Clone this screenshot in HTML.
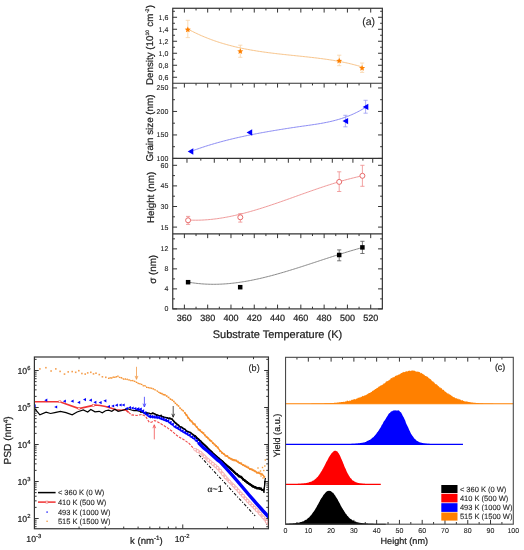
<!DOCTYPE html>
<html><head><meta charset="utf-8"><style>
html,body{margin:0;padding:0;background:#fff;}
svg{display:block;will-change:transform;}
text{stroke:#222;stroke-width:0.22px;stroke-linejoin:round;text-rendering:geometricPrecision;}
text.s{stroke-width:0.1px;}
</style></head><body>
<svg width="524" height="550" viewBox="0 0 524 550">
<rect width="524" height="550" fill="#fff"/>
<g font-family='"Liberation Sans", sans-serif'>
<line x1="184.39" y1="8.27" x2="184.39" y2="12.57" stroke="#333" stroke-width="1.0"/>
<line x1="207.68" y1="8.27" x2="207.68" y2="12.57" stroke="#333" stroke-width="1.0"/>
<line x1="230.97" y1="8.27" x2="230.97" y2="12.57" stroke="#333" stroke-width="1.0"/>
<line x1="254.26" y1="8.27" x2="254.26" y2="12.57" stroke="#333" stroke-width="1.0"/>
<line x1="277.55" y1="8.27" x2="277.55" y2="12.57" stroke="#333" stroke-width="1.0"/>
<line x1="300.84" y1="8.27" x2="300.84" y2="12.57" stroke="#333" stroke-width="1.0"/>
<line x1="324.13" y1="8.27" x2="324.13" y2="12.57" stroke="#333" stroke-width="1.0"/>
<line x1="347.42" y1="8.27" x2="347.42" y2="12.57" stroke="#333" stroke-width="1.0"/>
<line x1="370.71" y1="8.27" x2="370.71" y2="12.57" stroke="#333" stroke-width="1.0"/>
<line x1="196.04" y1="8.27" x2="196.04" y2="10.47" stroke="#333" stroke-width="1.0"/>
<line x1="219.33" y1="8.27" x2="219.33" y2="10.47" stroke="#333" stroke-width="1.0"/>
<line x1="242.62" y1="8.27" x2="242.62" y2="10.47" stroke="#333" stroke-width="1.0"/>
<line x1="265.91" y1="8.27" x2="265.91" y2="10.47" stroke="#333" stroke-width="1.0"/>
<line x1="289.19" y1="8.27" x2="289.19" y2="10.47" stroke="#333" stroke-width="1.0"/>
<line x1="312.48" y1="8.27" x2="312.48" y2="10.47" stroke="#333" stroke-width="1.0"/>
<line x1="335.77" y1="8.27" x2="335.77" y2="10.47" stroke="#333" stroke-width="1.0"/>
<line x1="359.06" y1="8.27" x2="359.06" y2="10.47" stroke="#333" stroke-width="1.0"/>
<line x1="172.75" y1="77.25" x2="177.05" y2="77.25" stroke="#333" stroke-width="1.0"/>
<line x1="382.35" y1="77.25" x2="378.05" y2="77.25" stroke="#333" stroke-width="1.0"/>
<text x="168.3" y="79.75" font-size="7" text-anchor="end" fill="#222" class="s">0,6</text>
<line x1="172.75" y1="65.25" x2="177.05" y2="65.25" stroke="#333" stroke-width="1.0"/>
<line x1="382.35" y1="65.25" x2="378.05" y2="65.25" stroke="#333" stroke-width="1.0"/>
<text x="168.3" y="67.75" font-size="7" text-anchor="end" fill="#222" class="s">0,8</text>
<line x1="172.75" y1="53.26" x2="177.05" y2="53.26" stroke="#333" stroke-width="1.0"/>
<line x1="382.35" y1="53.26" x2="378.05" y2="53.26" stroke="#333" stroke-width="1.0"/>
<text x="168.3" y="55.76" font-size="7" text-anchor="end" fill="#222" class="s">1,0</text>
<line x1="172.75" y1="41.26" x2="177.05" y2="41.26" stroke="#333" stroke-width="1.0"/>
<line x1="382.35" y1="41.26" x2="378.05" y2="41.26" stroke="#333" stroke-width="1.0"/>
<text x="168.3" y="43.76" font-size="7" text-anchor="end" fill="#222" class="s">1,2</text>
<line x1="172.75" y1="29.26" x2="177.05" y2="29.26" stroke="#333" stroke-width="1.0"/>
<line x1="382.35" y1="29.26" x2="378.05" y2="29.26" stroke="#333" stroke-width="1.0"/>
<text x="168.3" y="31.76" font-size="7" text-anchor="end" fill="#222" class="s">1,4</text>
<line x1="172.75" y1="17.27" x2="177.05" y2="17.27" stroke="#333" stroke-width="1.0"/>
<line x1="382.35" y1="17.27" x2="378.05" y2="17.27" stroke="#333" stroke-width="1.0"/>
<text x="168.3" y="19.77" font-size="7" text-anchor="end" fill="#222" class="s">1,6</text>
<line x1="172.75" y1="71.25" x2="174.95" y2="71.25" stroke="#333" stroke-width="1.0"/>
<line x1="382.35" y1="71.25" x2="380.15" y2="71.25" stroke="#333" stroke-width="1.0"/>
<line x1="172.75" y1="59.26" x2="174.95" y2="59.26" stroke="#333" stroke-width="1.0"/>
<line x1="382.35" y1="59.26" x2="380.15" y2="59.26" stroke="#333" stroke-width="1.0"/>
<line x1="172.75" y1="47.26" x2="174.95" y2="47.26" stroke="#333" stroke-width="1.0"/>
<line x1="382.35" y1="47.26" x2="380.15" y2="47.26" stroke="#333" stroke-width="1.0"/>
<line x1="172.75" y1="35.26" x2="174.95" y2="35.26" stroke="#333" stroke-width="1.0"/>
<line x1="382.35" y1="35.26" x2="380.15" y2="35.26" stroke="#333" stroke-width="1.0"/>
<line x1="172.75" y1="23.27" x2="174.95" y2="23.27" stroke="#333" stroke-width="1.0"/>
<line x1="382.35" y1="23.27" x2="380.15" y2="23.27" stroke="#333" stroke-width="1.0"/>
<line x1="172.75" y1="11.27" x2="174.95" y2="11.27" stroke="#333" stroke-width="1.0"/>
<line x1="382.35" y1="11.27" x2="380.15" y2="11.27" stroke="#333" stroke-width="1.0"/>
<line x1="184.39" y1="83.25" x2="184.39" y2="87.55" stroke="#333" stroke-width="1.0"/>
<line x1="207.68" y1="83.25" x2="207.68" y2="87.55" stroke="#333" stroke-width="1.0"/>
<line x1="230.97" y1="83.25" x2="230.97" y2="87.55" stroke="#333" stroke-width="1.0"/>
<line x1="254.26" y1="83.25" x2="254.26" y2="87.55" stroke="#333" stroke-width="1.0"/>
<line x1="277.55" y1="83.25" x2="277.55" y2="87.55" stroke="#333" stroke-width="1.0"/>
<line x1="300.84" y1="83.25" x2="300.84" y2="87.55" stroke="#333" stroke-width="1.0"/>
<line x1="324.13" y1="83.25" x2="324.13" y2="87.55" stroke="#333" stroke-width="1.0"/>
<line x1="347.42" y1="83.25" x2="347.42" y2="87.55" stroke="#333" stroke-width="1.0"/>
<line x1="370.71" y1="83.25" x2="370.71" y2="87.55" stroke="#333" stroke-width="1.0"/>
<line x1="196.04" y1="83.25" x2="196.04" y2="85.45" stroke="#333" stroke-width="1.0"/>
<line x1="219.33" y1="83.25" x2="219.33" y2="85.45" stroke="#333" stroke-width="1.0"/>
<line x1="242.62" y1="83.25" x2="242.62" y2="85.45" stroke="#333" stroke-width="1.0"/>
<line x1="265.91" y1="83.25" x2="265.91" y2="85.45" stroke="#333" stroke-width="1.0"/>
<line x1="289.19" y1="83.25" x2="289.19" y2="85.45" stroke="#333" stroke-width="1.0"/>
<line x1="312.48" y1="83.25" x2="312.48" y2="85.45" stroke="#333" stroke-width="1.0"/>
<line x1="335.77" y1="83.25" x2="335.77" y2="85.45" stroke="#333" stroke-width="1.0"/>
<line x1="359.06" y1="83.25" x2="359.06" y2="85.45" stroke="#333" stroke-width="1.0"/>
<line x1="172.75" y1="158.45" x2="177.05" y2="158.45" stroke="#333" stroke-width="1.0"/>
<line x1="382.35" y1="158.45" x2="378.05" y2="158.45" stroke="#333" stroke-width="1.0"/>
<text x="168.3" y="160.95" font-size="7" text-anchor="end" fill="#222" class="s">100</text>
<line x1="172.75" y1="134.95" x2="177.05" y2="134.95" stroke="#333" stroke-width="1.0"/>
<line x1="382.35" y1="134.95" x2="378.05" y2="134.95" stroke="#333" stroke-width="1.0"/>
<text x="168.3" y="137.45" font-size="7" text-anchor="end" fill="#222" class="s">150</text>
<line x1="172.75" y1="111.45" x2="177.05" y2="111.45" stroke="#333" stroke-width="1.0"/>
<line x1="382.35" y1="111.45" x2="378.05" y2="111.45" stroke="#333" stroke-width="1.0"/>
<text x="168.3" y="113.95" font-size="7" text-anchor="end" fill="#222" class="s">200</text>
<line x1="172.75" y1="87.95" x2="177.05" y2="87.95" stroke="#333" stroke-width="1.0"/>
<line x1="382.35" y1="87.95" x2="378.05" y2="87.95" stroke="#333" stroke-width="1.0"/>
<text x="168.3" y="90.45" font-size="7" text-anchor="end" fill="#222" class="s">250</text>
<line x1="172.75" y1="146.7" x2="174.95" y2="146.7" stroke="#333" stroke-width="1.0"/>
<line x1="382.35" y1="146.7" x2="380.15" y2="146.7" stroke="#333" stroke-width="1.0"/>
<line x1="172.75" y1="123.2" x2="174.95" y2="123.2" stroke="#333" stroke-width="1.0"/>
<line x1="382.35" y1="123.2" x2="380.15" y2="123.2" stroke="#333" stroke-width="1.0"/>
<line x1="172.75" y1="99.7" x2="174.95" y2="99.7" stroke="#333" stroke-width="1.0"/>
<line x1="382.35" y1="99.7" x2="380.15" y2="99.7" stroke="#333" stroke-width="1.0"/>
<line x1="186.98" y1="158.45" x2="186.98" y2="162.75" stroke="#333" stroke-width="1.0"/>
<line x1="214.29" y1="158.45" x2="214.29" y2="162.75" stroke="#333" stroke-width="1.0"/>
<line x1="240.2" y1="158.45" x2="240.2" y2="162.75" stroke="#333" stroke-width="1.0"/>
<line x1="264.85" y1="158.45" x2="264.85" y2="162.75" stroke="#333" stroke-width="1.0"/>
<line x1="288.34" y1="158.45" x2="288.34" y2="162.75" stroke="#333" stroke-width="1.0"/>
<line x1="310.8" y1="158.45" x2="310.8" y2="162.75" stroke="#333" stroke-width="1.0"/>
<line x1="332.3" y1="158.45" x2="332.3" y2="162.75" stroke="#333" stroke-width="1.0"/>
<line x1="352.92" y1="158.45" x2="352.92" y2="162.75" stroke="#333" stroke-width="1.0"/>
<line x1="372.73" y1="158.45" x2="372.73" y2="162.75" stroke="#333" stroke-width="1.0"/>
<line x1="200.82" y1="158.45" x2="200.82" y2="160.65" stroke="#333" stroke-width="1.0"/>
<line x1="227.41" y1="158.45" x2="227.41" y2="160.65" stroke="#333" stroke-width="1.0"/>
<line x1="252.67" y1="158.45" x2="252.67" y2="160.65" stroke="#333" stroke-width="1.0"/>
<line x1="276.73" y1="158.45" x2="276.73" y2="160.65" stroke="#333" stroke-width="1.0"/>
<line x1="299.7" y1="158.45" x2="299.7" y2="160.65" stroke="#333" stroke-width="1.0"/>
<line x1="321.66" y1="158.45" x2="321.66" y2="160.65" stroke="#333" stroke-width="1.0"/>
<line x1="342.71" y1="158.45" x2="342.71" y2="160.65" stroke="#333" stroke-width="1.0"/>
<line x1="362.92" y1="158.45" x2="362.92" y2="160.65" stroke="#333" stroke-width="1.0"/>
<line x1="172.75" y1="227.1" x2="177.05" y2="227.1" stroke="#333" stroke-width="1.0"/>
<line x1="382.35" y1="227.1" x2="378.05" y2="227.1" stroke="#333" stroke-width="1.0"/>
<text x="168.3" y="229.6" font-size="7" text-anchor="end" fill="#222" class="s">15</text>
<line x1="172.75" y1="206.5" x2="177.05" y2="206.5" stroke="#333" stroke-width="1.0"/>
<line x1="382.35" y1="206.5" x2="378.05" y2="206.5" stroke="#333" stroke-width="1.0"/>
<text x="168.3" y="209" font-size="7" text-anchor="end" fill="#222" class="s">30</text>
<line x1="172.75" y1="185.9" x2="177.05" y2="185.9" stroke="#333" stroke-width="1.0"/>
<line x1="382.35" y1="185.9" x2="378.05" y2="185.9" stroke="#333" stroke-width="1.0"/>
<text x="168.3" y="188.4" font-size="7" text-anchor="end" fill="#222" class="s">45</text>
<line x1="172.75" y1="165.3" x2="177.05" y2="165.3" stroke="#333" stroke-width="1.0"/>
<line x1="382.35" y1="165.3" x2="378.05" y2="165.3" stroke="#333" stroke-width="1.0"/>
<text x="168.3" y="167.8" font-size="7" text-anchor="end" fill="#222" class="s">60</text>
<line x1="172.75" y1="216.8" x2="174.95" y2="216.8" stroke="#333" stroke-width="1.0"/>
<line x1="382.35" y1="216.8" x2="380.15" y2="216.8" stroke="#333" stroke-width="1.0"/>
<line x1="172.75" y1="196.2" x2="174.95" y2="196.2" stroke="#333" stroke-width="1.0"/>
<line x1="382.35" y1="196.2" x2="380.15" y2="196.2" stroke="#333" stroke-width="1.0"/>
<line x1="172.75" y1="175.6" x2="174.95" y2="175.6" stroke="#333" stroke-width="1.0"/>
<line x1="382.35" y1="175.6" x2="380.15" y2="175.6" stroke="#333" stroke-width="1.0"/>
<line x1="184.39" y1="233.85" x2="184.39" y2="238.15" stroke="#333" stroke-width="1.0"/>
<line x1="207.68" y1="233.85" x2="207.68" y2="238.15" stroke="#333" stroke-width="1.0"/>
<line x1="230.97" y1="233.85" x2="230.97" y2="238.15" stroke="#333" stroke-width="1.0"/>
<line x1="254.26" y1="233.85" x2="254.26" y2="238.15" stroke="#333" stroke-width="1.0"/>
<line x1="277.55" y1="233.85" x2="277.55" y2="238.15" stroke="#333" stroke-width="1.0"/>
<line x1="300.84" y1="233.85" x2="300.84" y2="238.15" stroke="#333" stroke-width="1.0"/>
<line x1="324.13" y1="233.85" x2="324.13" y2="238.15" stroke="#333" stroke-width="1.0"/>
<line x1="347.42" y1="233.85" x2="347.42" y2="238.15" stroke="#333" stroke-width="1.0"/>
<line x1="370.71" y1="233.85" x2="370.71" y2="238.15" stroke="#333" stroke-width="1.0"/>
<line x1="196.04" y1="233.85" x2="196.04" y2="236.05" stroke="#333" stroke-width="1.0"/>
<line x1="219.33" y1="233.85" x2="219.33" y2="236.05" stroke="#333" stroke-width="1.0"/>
<line x1="242.62" y1="233.85" x2="242.62" y2="236.05" stroke="#333" stroke-width="1.0"/>
<line x1="265.91" y1="233.85" x2="265.91" y2="236.05" stroke="#333" stroke-width="1.0"/>
<line x1="289.19" y1="233.85" x2="289.19" y2="236.05" stroke="#333" stroke-width="1.0"/>
<line x1="312.48" y1="233.85" x2="312.48" y2="236.05" stroke="#333" stroke-width="1.0"/>
<line x1="335.77" y1="233.85" x2="335.77" y2="236.05" stroke="#333" stroke-width="1.0"/>
<line x1="359.06" y1="233.85" x2="359.06" y2="236.05" stroke="#333" stroke-width="1.0"/>
<line x1="172.75" y1="308.9" x2="177.05" y2="308.9" stroke="#333" stroke-width="1.0"/>
<line x1="382.35" y1="308.9" x2="378.05" y2="308.9" stroke="#333" stroke-width="1.0"/>
<text x="168.3" y="311.4" font-size="7" text-anchor="end" fill="#222" class="s">0</text>
<line x1="172.75" y1="288.89" x2="177.05" y2="288.89" stroke="#333" stroke-width="1.0"/>
<line x1="382.35" y1="288.89" x2="378.05" y2="288.89" stroke="#333" stroke-width="1.0"/>
<text x="168.3" y="291.39" font-size="7" text-anchor="end" fill="#222" class="s">4</text>
<line x1="172.75" y1="268.87" x2="177.05" y2="268.87" stroke="#333" stroke-width="1.0"/>
<line x1="382.35" y1="268.87" x2="378.05" y2="268.87" stroke="#333" stroke-width="1.0"/>
<text x="168.3" y="271.37" font-size="7" text-anchor="end" fill="#222" class="s">8</text>
<line x1="172.75" y1="248.86" x2="177.05" y2="248.86" stroke="#333" stroke-width="1.0"/>
<line x1="382.35" y1="248.86" x2="378.05" y2="248.86" stroke="#333" stroke-width="1.0"/>
<text x="168.3" y="251.36" font-size="7" text-anchor="end" fill="#222" class="s">12</text>
<line x1="172.75" y1="298.89" x2="174.95" y2="298.89" stroke="#333" stroke-width="1.0"/>
<line x1="382.35" y1="298.89" x2="380.15" y2="298.89" stroke="#333" stroke-width="1.0"/>
<line x1="172.75" y1="278.88" x2="174.95" y2="278.88" stroke="#333" stroke-width="1.0"/>
<line x1="382.35" y1="278.88" x2="380.15" y2="278.88" stroke="#333" stroke-width="1.0"/>
<line x1="172.75" y1="258.87" x2="174.95" y2="258.87" stroke="#333" stroke-width="1.0"/>
<line x1="382.35" y1="258.87" x2="380.15" y2="258.87" stroke="#333" stroke-width="1.0"/>
<line x1="172.75" y1="238.85" x2="174.95" y2="238.85" stroke="#333" stroke-width="1.0"/>
<line x1="382.35" y1="238.85" x2="380.15" y2="238.85" stroke="#333" stroke-width="1.0"/>
<line x1="184.39" y1="308.9" x2="184.39" y2="304.6" stroke="#333" stroke-width="1.0"/>
<text x="184.39" y="320.6" font-size="9" text-anchor="middle" fill="#222">360</text>
<line x1="207.68" y1="308.9" x2="207.68" y2="304.6" stroke="#333" stroke-width="1.0"/>
<text x="207.68" y="320.6" font-size="9" text-anchor="middle" fill="#222">380</text>
<line x1="230.97" y1="308.9" x2="230.97" y2="304.6" stroke="#333" stroke-width="1.0"/>
<text x="230.97" y="320.6" font-size="9" text-anchor="middle" fill="#222">400</text>
<line x1="254.26" y1="308.9" x2="254.26" y2="304.6" stroke="#333" stroke-width="1.0"/>
<text x="254.26" y="320.6" font-size="9" text-anchor="middle" fill="#222">420</text>
<line x1="277.55" y1="308.9" x2="277.55" y2="304.6" stroke="#333" stroke-width="1.0"/>
<text x="277.55" y="320.6" font-size="9" text-anchor="middle" fill="#222">440</text>
<line x1="300.84" y1="308.9" x2="300.84" y2="304.6" stroke="#333" stroke-width="1.0"/>
<text x="300.84" y="320.6" font-size="9" text-anchor="middle" fill="#222">460</text>
<line x1="324.13" y1="308.9" x2="324.13" y2="304.6" stroke="#333" stroke-width="1.0"/>
<text x="324.13" y="320.6" font-size="9" text-anchor="middle" fill="#222">480</text>
<line x1="347.42" y1="308.9" x2="347.42" y2="304.6" stroke="#333" stroke-width="1.0"/>
<text x="347.42" y="320.6" font-size="9" text-anchor="middle" fill="#222">500</text>
<line x1="370.71" y1="308.9" x2="370.71" y2="304.6" stroke="#333" stroke-width="1.0"/>
<text x="370.71" y="320.6" font-size="9" text-anchor="middle" fill="#222">520</text>
<line x1="196.04" y1="308.9" x2="196.04" y2="306.7" stroke="#333" stroke-width="1.0"/>
<line x1="219.33" y1="308.9" x2="219.33" y2="306.7" stroke="#333" stroke-width="1.0"/>
<line x1="242.62" y1="308.9" x2="242.62" y2="306.7" stroke="#333" stroke-width="1.0"/>
<line x1="265.91" y1="308.9" x2="265.91" y2="306.7" stroke="#333" stroke-width="1.0"/>
<line x1="289.19" y1="308.9" x2="289.19" y2="306.7" stroke="#333" stroke-width="1.0"/>
<line x1="312.48" y1="308.9" x2="312.48" y2="306.7" stroke="#333" stroke-width="1.0"/>
<line x1="335.77" y1="308.9" x2="335.77" y2="306.7" stroke="#333" stroke-width="1.0"/>
<line x1="359.06" y1="308.9" x2="359.06" y2="306.7" stroke="#333" stroke-width="1.0"/>
<rect x="172.75" y="8.27" width="209.6" height="300.63" fill="none" stroke="#333" stroke-width="1.2"/>
<line x1="172.75" y1="83.25" x2="382.35" y2="83.25" stroke="#333" stroke-width="1.2"/>
<line x1="172.75" y1="158.45" x2="382.35" y2="158.45" stroke="#333" stroke-width="1.2"/>
<line x1="172.75" y1="233.85" x2="382.35" y2="233.85" stroke="#333" stroke-width="1.2"/>
<text x="277.5" y="338.3" font-size="11" text-anchor="middle" fill="#222">Substrate Temperature (K)</text>
<text x="375" y="25.3" font-size="10.5" text-anchor="end" fill="#222" class="s">(a)</text>
<text transform="translate(152.8,85) rotate(-90)" font-size="9.75" fill="#222">Density (10<tspan font-size="5.0" dy="-4.0" dx="0.2">10</tspan><tspan dy="4.0" dx="0.5"> cm</tspan><tspan font-size="5.2" dy="-4.0" dx="0.6">-2</tspan><tspan dy="4.0" dx="0.2">)</tspan></text>
<text transform="translate(153.3,161.5) rotate(-90)" font-size="9.8" fill="#222">Grain size (nm)</text>
<text transform="translate(154,223) rotate(-90)" font-size="9.8" fill="#222">Height (nm)</text>
<text transform="translate(156.4,283.8) rotate(-90)" font-size="9.8" fill="#222">&#963; (nm)</text>
<path d="M188,29.13 L189.49,29.92 L190.98,30.7 L192.46,31.46 L193.95,32.2 L195.44,32.92 L196.93,33.63 L198.42,34.32 L199.9,34.99 L201.39,35.65 L202.88,36.29 L204.37,36.91 L205.86,37.52 L207.34,38.12 L208.83,38.7 L210.32,39.26 L211.81,39.82 L213.3,40.35 L214.78,40.88 L216.27,41.38 L217.76,41.88 L219.25,42.36 L220.74,42.83 L222.22,43.29 L223.71,43.73 L225.2,44.17 L226.69,44.59 L228.18,45 L229.66,45.4 L231.15,45.78 L232.64,46.16 L234.13,46.53 L235.62,46.88 L237.11,47.23 L238.59,47.56 L240.08,47.89 L241.57,48.21 L243.06,48.52 L244.55,48.82 L246.03,49.11 L247.52,49.39 L249.01,49.67 L250.5,49.93 L251.99,50.19 L253.47,50.45 L254.96,50.69 L256.45,50.93 L257.94,51.17 L259.43,51.4 L260.91,51.62 L262.4,51.83 L263.89,52.04 L265.38,52.25 L266.87,52.45 L268.35,52.65 L269.84,52.84 L271.33,53.03 L272.82,53.21 L274.31,53.39 L275.79,53.57 L277.28,53.75 L278.77,53.92 L280.26,54.08 L281.75,54.25 L283.23,54.41 L284.72,54.57 L286.21,54.73 L287.7,54.89 L289.19,55.05 L290.67,55.2 L292.16,55.36 L293.65,55.51 L295.14,55.67 L296.63,55.82 L298.11,55.97 L299.6,56.13 L301.09,56.28 L302.58,56.44 L304.07,56.6 L305.55,56.76 L307.04,56.92 L308.53,57.08 L310.02,57.24 L311.51,57.41 L312.99,57.58 L314.48,57.76 L315.97,57.93 L317.46,58.11 L318.95,58.3 L320.44,58.49 L321.92,58.68 L323.41,58.88 L324.9,59.09 L326.39,59.3 L327.88,59.52 L329.36,59.74 L330.85,59.97 L332.34,60.21 L333.83,60.45 L335.32,60.71 L336.8,60.97 L338.29,61.24 L339.78,61.52 L341.27,61.8 L342.76,62.1 L344.24,62.41 L345.73,62.72 L347.22,63.05 L348.71,63.39 L350.2,63.74 L351.68,64.1 L353.17,64.47 L354.66,64.86 L356.15,65.25 L357.64,65.66 L359.12,66.09 L360.61,66.52 L362.1,66.97" fill="none" stroke="#f8c48a" stroke-width="1"/>
<line x1="187.8" y1="20.3" x2="187.8" y2="37.6" stroke="#f9d3a6" stroke-width="0.8"/>
<line x1="185.7" y1="20.3" x2="189.9" y2="20.3" stroke="#f9d3a6" stroke-width="0.8"/>
<line x1="185.7" y1="37.6" x2="189.9" y2="37.6" stroke="#f9d3a6" stroke-width="0.8"/>
<path d="M187.8,26.5 L188.65,28.54 L190.84,28.71 L189.17,30.14 L189.68,32.29 L187.8,31.14 L185.92,32.29 L186.43,30.14 L184.76,28.71 L186.95,28.54Z" fill="#ff8000"/>
<line x1="240.3" y1="45.2" x2="240.3" y2="57.3" stroke="#f9d3a6" stroke-width="0.8"/>
<line x1="238.2" y1="45.2" x2="242.4" y2="45.2" stroke="#f9d3a6" stroke-width="0.8"/>
<line x1="238.2" y1="57.3" x2="242.4" y2="57.3" stroke="#f9d3a6" stroke-width="0.8"/>
<path d="M240.3,48.2 L241.15,50.24 L243.34,50.41 L241.67,51.84 L242.18,53.99 L240.3,52.84 L238.42,53.99 L238.93,51.84 L237.26,50.41 L239.45,50.24Z" fill="#ff8000"/>
<line x1="339.2" y1="55.2" x2="339.2" y2="65.7" stroke="#f9d3a6" stroke-width="0.8"/>
<line x1="337.1" y1="55.2" x2="341.3" y2="55.2" stroke="#f9d3a6" stroke-width="0.8"/>
<line x1="337.1" y1="65.7" x2="341.3" y2="65.7" stroke="#f9d3a6" stroke-width="0.8"/>
<path d="M339.2,57.7 L340.05,59.74 L342.24,59.91 L340.57,61.34 L341.08,63.49 L339.2,62.34 L337.32,63.49 L337.83,61.34 L336.16,59.91 L338.35,59.74Z" fill="#ff8000"/>
<line x1="362.1" y1="63" x2="362.1" y2="72.4" stroke="#f9d3a6" stroke-width="0.8"/>
<line x1="360" y1="63" x2="364.2" y2="63" stroke="#f9d3a6" stroke-width="0.8"/>
<line x1="360" y1="72.4" x2="364.2" y2="72.4" stroke="#f9d3a6" stroke-width="0.8"/>
<path d="M362.1,64.9 L362.95,66.94 L365.14,67.11 L363.47,68.54 L363.98,70.69 L362.1,69.54 L360.22,70.69 L360.73,68.54 L359.06,67.11 L361.25,66.94Z" fill="#ff8000"/>
<path d="M190.6,151.5 L192.09,150.94 L193.59,150.39 L195.08,149.85 L196.57,149.32 L198.07,148.8 L199.56,148.29 L201.05,147.78 L202.55,147.29 L204.04,146.8 L205.53,146.31 L207.02,145.84 L208.52,145.37 L210.01,144.92 L211.5,144.46 L213,144.02 L214.49,143.58 L215.98,143.15 L217.48,142.73 L218.97,142.31 L220.46,141.9 L221.96,141.5 L223.45,141.1 L224.94,140.71 L226.44,140.33 L227.93,139.95 L229.42,139.57 L230.92,139.21 L232.41,138.85 L233.9,138.49 L235.39,138.14 L236.89,137.8 L238.38,137.46 L239.87,137.12 L241.37,136.79 L242.86,136.47 L244.35,136.15 L245.85,135.83 L247.34,135.52 L248.83,135.21 L250.33,134.91 L251.82,134.61 L253.31,134.32 L254.81,134.03 L256.3,133.74 L257.79,133.46 L259.29,133.18 L260.78,132.9 L262.27,132.63 L263.76,132.36 L265.26,132.09 L266.75,131.83 L268.24,131.57 L269.74,131.31 L271.23,131.05 L272.72,130.8 L274.22,130.55 L275.71,130.3 L277.2,130.06 L278.7,129.81 L280.19,129.57 L281.68,129.33 L283.18,129.09 L284.67,128.85 L286.16,128.62 L287.66,128.38 L289.15,128.15 L290.64,127.92 L292.14,127.7 L293.63,127.47 L295.12,127.25 L296.61,127.03 L298.11,126.81 L299.6,126.59 L301.09,126.38 L302.59,126.17 L304.08,125.96 L305.57,125.75 L307.07,125.54 L308.56,125.33 L310.05,125.12 L311.55,124.9 L313.04,124.68 L314.53,124.46 L316.03,124.23 L317.52,123.99 L319.01,123.75 L320.51,123.49 L322,123.23 L323.49,122.96 L324.98,122.67 L326.48,122.38 L327.97,122.07 L329.46,121.74 L330.96,121.4 L332.45,121.05 L333.94,120.68 L335.44,120.29 L336.93,119.89 L338.42,119.46 L339.92,119.02 L341.41,118.55 L342.9,118.06 L344.4,117.55 L345.89,117.02 L347.38,116.46 L348.88,115.87 L350.37,115.26 L351.86,114.63 L353.35,113.96 L354.85,113.27 L356.34,112.54 L357.83,111.79 L359.33,111 L360.82,110.18 L362.31,109.33 L363.81,108.44 L365.3,107.52" fill="none" stroke="#8c8cf4" stroke-width="1"/>
<path d="M187.7,151.5 L193.3,148.3 L193.3,154.7Z" fill="#0000ff"/>
<path d="M246.6,132.5 L252.2,129.3 L252.2,135.7Z" fill="#0000ff"/>
<line x1="345.4" y1="115.3" x2="345.4" y2="126.8" stroke="#9a9af2" stroke-width="0.8"/>
<line x1="343.3" y1="115.3" x2="347.5" y2="115.3" stroke="#9a9af2" stroke-width="0.8"/>
<line x1="343.3" y1="126.8" x2="347.5" y2="126.8" stroke="#9a9af2" stroke-width="0.8"/>
<path d="M342.5,121.1 L348.1,117.9 L348.1,124.3Z" fill="#0000ff"/>
<line x1="365.6" y1="100.3" x2="365.6" y2="113.2" stroke="#9a9af2" stroke-width="0.8"/>
<line x1="363.5" y1="100.3" x2="367.7" y2="100.3" stroke="#9a9af2" stroke-width="0.8"/>
<line x1="363.5" y1="113.2" x2="367.7" y2="113.2" stroke="#9a9af2" stroke-width="0.8"/>
<path d="M362.7,106.9 L368.3,103.7 L368.3,110.1Z" fill="#0000ff"/>
<path d="M188.1,220.01 L189.59,220.08 L191.08,220.14 L192.57,220.18 L194.06,220.2 L195.55,220.21 L197.04,220.2 L198.53,220.18 L200.02,220.14 L201.51,220.08 L203,220.02 L204.49,219.93 L205.98,219.83 L207.47,219.72 L208.96,219.6 L210.45,219.46 L211.94,219.31 L213.43,219.14 L214.92,218.96 L216.41,218.77 L217.89,218.57 L219.38,218.35 L220.87,218.12 L222.36,217.88 L223.85,217.63 L225.34,217.37 L226.83,217.1 L228.32,216.81 L229.81,216.52 L231.3,216.21 L232.79,215.9 L234.28,215.57 L235.77,215.24 L237.26,214.89 L238.75,214.54 L240.24,214.18 L241.73,213.81 L243.22,213.43 L244.71,213.04 L246.2,212.64 L247.69,212.24 L249.18,211.83 L250.67,211.41 L252.16,210.98 L253.65,210.55 L255.14,210.11 L256.63,209.66 L258.12,209.21 L259.61,208.75 L261.1,208.29 L262.59,207.82 L264.08,207.34 L265.57,206.86 L267.06,206.38 L268.55,205.89 L270.04,205.39 L271.53,204.89 L273.02,204.39 L274.51,203.89 L275.99,203.38 L277.48,202.86 L278.97,202.35 L280.46,201.83 L281.95,201.31 L283.44,200.79 L284.93,200.26 L286.42,199.74 L287.91,199.21 L289.4,198.68 L290.89,198.15 L292.38,197.61 L293.87,197.08 L295.36,196.55 L296.85,196.01 L298.34,195.48 L299.83,194.95 L301.32,194.42 L302.81,193.88 L304.3,193.35 L305.79,192.82 L307.28,192.29 L308.77,191.77 L310.26,191.24 L311.75,190.72 L313.24,190.2 L314.73,189.68 L316.22,189.16 L317.71,188.65 L319.2,188.14 L320.69,187.64 L322.18,187.14 L323.67,186.64 L325.16,186.14 L326.65,185.65 L328.14,185.17 L329.63,184.69 L331.12,184.21 L332.61,183.74 L334.09,183.28 L335.58,182.82 L337.07,182.37 L338.56,181.92 L340.05,181.48 L341.54,181.05 L343.03,180.62 L344.52,180.2 L346.01,179.79 L347.5,179.39 L348.99,178.99 L350.48,178.6 L351.97,178.22 L353.46,177.85 L354.95,177.49 L356.44,177.14 L357.93,176.79 L359.42,176.46 L360.91,176.13 L362.4,175.82" fill="none" stroke="#f09a9a" stroke-width="1"/>
<line x1="188.1" y1="216.4" x2="188.1" y2="224.4" stroke="#ef8c8c" stroke-width="0.8"/>
<line x1="186" y1="216.4" x2="190.2" y2="216.4" stroke="#ef8c8c" stroke-width="0.8"/>
<line x1="186" y1="224.4" x2="190.2" y2="224.4" stroke="#ef8c8c" stroke-width="0.8"/>
<circle cx="188.1" cy="220.3" r="2.5" fill="#fff" stroke="#e86a6a" stroke-width="1"/>
<line x1="240.3" y1="213.7" x2="240.3" y2="222.1" stroke="#ef8c8c" stroke-width="0.8"/>
<line x1="238.2" y1="213.7" x2="242.4" y2="213.7" stroke="#ef8c8c" stroke-width="0.8"/>
<line x1="238.2" y1="222.1" x2="242.4" y2="222.1" stroke="#ef8c8c" stroke-width="0.8"/>
<circle cx="240.3" cy="217.3" r="2.5" fill="#fff" stroke="#e86a6a" stroke-width="1"/>
<line x1="339.2" y1="171.8" x2="339.2" y2="191.5" stroke="#ef8c8c" stroke-width="0.8"/>
<line x1="337.1" y1="171.8" x2="341.3" y2="171.8" stroke="#ef8c8c" stroke-width="0.8"/>
<line x1="337.1" y1="191.5" x2="341.3" y2="191.5" stroke="#ef8c8c" stroke-width="0.8"/>
<circle cx="339.2" cy="181.9" r="2.5" fill="#fff" stroke="#e86a6a" stroke-width="1"/>
<line x1="362.4" y1="165.3" x2="362.4" y2="186.3" stroke="#ef8c8c" stroke-width="0.8"/>
<line x1="360.3" y1="165.3" x2="364.5" y2="165.3" stroke="#ef8c8c" stroke-width="0.8"/>
<line x1="360.3" y1="186.3" x2="364.5" y2="186.3" stroke="#ef8c8c" stroke-width="0.8"/>
<circle cx="362.4" cy="175.8" r="2.5" fill="#fff" stroke="#e86a6a" stroke-width="1"/>
<path d="M188.1,282.1 L189.59,282.36 L191.08,282.6 L192.57,282.82 L194.06,283.03 L195.55,283.22 L197.04,283.4 L198.53,283.56 L200.02,283.7 L201.51,283.83 L203,283.94 L204.49,284.04 L205.98,284.12 L207.47,284.18 L208.96,284.23 L210.45,284.27 L211.94,284.29 L213.43,284.3 L214.92,284.29 L216.41,284.27 L217.89,284.24 L219.38,284.19 L220.87,284.13 L222.36,284.06 L223.85,283.97 L225.34,283.87 L226.83,283.76 L228.32,283.63 L229.81,283.5 L231.3,283.35 L232.79,283.19 L234.28,283.02 L235.77,282.83 L237.26,282.64 L238.75,282.44 L240.24,282.22 L241.73,282 L243.22,281.76 L244.71,281.52 L246.2,281.26 L247.69,281 L249.18,280.72 L250.67,280.44 L252.16,280.14 L253.65,279.84 L255.14,279.53 L256.63,279.21 L258.12,278.89 L259.61,278.55 L261.1,278.21 L262.59,277.86 L264.08,277.5 L265.57,277.14 L267.06,276.76 L268.55,276.38 L270.04,276 L271.53,275.61 L273.02,275.21 L274.51,274.81 L275.99,274.4 L277.48,273.98 L278.97,273.56 L280.46,273.13 L281.95,272.7 L283.44,272.27 L284.93,271.83 L286.42,271.38 L287.91,270.93 L289.4,270.48 L290.89,270.02 L292.38,269.56 L293.87,269.1 L295.36,268.63 L296.85,268.16 L298.34,267.69 L299.83,267.21 L301.32,266.74 L302.81,266.26 L304.3,265.77 L305.79,265.29 L307.28,264.8 L308.77,264.32 L310.26,263.83 L311.75,263.34 L313.24,262.85 L314.73,262.36 L316.22,261.87 L317.71,261.38 L319.2,260.89 L320.69,260.4 L322.18,259.91 L323.67,259.42 L325.16,258.93 L326.65,258.44 L328.14,257.96 L329.63,257.47 L331.12,256.99 L332.61,256.51 L334.09,256.03 L335.58,255.55 L337.07,255.08 L338.56,254.61 L340.05,254.14 L341.54,253.67 L343.03,253.21 L344.52,252.75 L346.01,252.29 L347.5,251.84 L348.99,251.4 L350.48,250.95 L351.97,250.51 L353.46,250.08 L354.95,249.65 L356.44,249.23 L357.93,248.81 L359.42,248.39 L360.91,247.98 L362.4,247.58" fill="none" stroke="#8a8a8a" stroke-width="1"/>
<rect x="185.85" y="279.95" width="4.5" height="4.5" fill="#000"/>
<rect x="237.95" y="284.95" width="4.5" height="4.5" fill="#000"/>
<line x1="339.2" y1="249.9" x2="339.2" y2="260.8" stroke="#555" stroke-width="0.8"/>
<line x1="337.1" y1="249.9" x2="341.3" y2="249.9" stroke="#555" stroke-width="0.8"/>
<line x1="337.1" y1="260.8" x2="341.3" y2="260.8" stroke="#555" stroke-width="0.8"/>
<rect x="336.95" y="252.75" width="4.5" height="4.5" fill="#000"/>
<line x1="362.4" y1="241.3" x2="362.4" y2="253.5" stroke="#555" stroke-width="0.8"/>
<line x1="360.3" y1="241.3" x2="364.5" y2="241.3" stroke="#555" stroke-width="0.8"/>
<line x1="360.3" y1="253.5" x2="364.5" y2="253.5" stroke="#555" stroke-width="0.8"/>
<rect x="360.15" y="245.15" width="4.5" height="4.5" fill="#000"/>
<line x1="79.06" y1="528.75" x2="79.06" y2="526.55" stroke="#333" stroke-width="1.0"/>
<line x1="79.06" y1="357" x2="79.06" y2="359.2" stroke="#333" stroke-width="1.0"/>
<line x1="105.18" y1="528.75" x2="105.18" y2="526.55" stroke="#333" stroke-width="1.0"/>
<line x1="105.18" y1="357" x2="105.18" y2="359.2" stroke="#333" stroke-width="1.0"/>
<line x1="123.72" y1="528.75" x2="123.72" y2="526.55" stroke="#333" stroke-width="1.0"/>
<line x1="123.72" y1="357" x2="123.72" y2="359.2" stroke="#333" stroke-width="1.0"/>
<line x1="138.09" y1="528.75" x2="138.09" y2="526.55" stroke="#333" stroke-width="1.0"/>
<line x1="138.09" y1="357" x2="138.09" y2="359.2" stroke="#333" stroke-width="1.0"/>
<line x1="149.84" y1="528.75" x2="149.84" y2="526.55" stroke="#333" stroke-width="1.0"/>
<line x1="149.84" y1="357" x2="149.84" y2="359.2" stroke="#333" stroke-width="1.0"/>
<line x1="159.77" y1="528.75" x2="159.77" y2="526.55" stroke="#333" stroke-width="1.0"/>
<line x1="159.77" y1="357" x2="159.77" y2="359.2" stroke="#333" stroke-width="1.0"/>
<line x1="168.37" y1="528.75" x2="168.37" y2="526.55" stroke="#333" stroke-width="1.0"/>
<line x1="168.37" y1="357" x2="168.37" y2="359.2" stroke="#333" stroke-width="1.0"/>
<line x1="175.96" y1="528.75" x2="175.96" y2="526.55" stroke="#333" stroke-width="1.0"/>
<line x1="175.96" y1="357" x2="175.96" y2="359.2" stroke="#333" stroke-width="1.0"/>
<line x1="182.75" y1="528.75" x2="182.75" y2="524.45" stroke="#333" stroke-width="1.0"/>
<line x1="182.75" y1="357" x2="182.75" y2="361.3" stroke="#333" stroke-width="1.0"/>
<line x1="227.41" y1="528.75" x2="227.41" y2="526.55" stroke="#333" stroke-width="1.0"/>
<line x1="227.41" y1="357" x2="227.41" y2="359.2" stroke="#333" stroke-width="1.0"/>
<line x1="253.53" y1="528.75" x2="253.53" y2="526.55" stroke="#333" stroke-width="1.0"/>
<line x1="253.53" y1="357" x2="253.53" y2="359.2" stroke="#333" stroke-width="1.0"/>
<line x1="34.4" y1="526.71" x2="36.6" y2="526.71" stroke="#333" stroke-width="1.0"/>
<line x1="268.45" y1="526.71" x2="266.25" y2="526.71" stroke="#333" stroke-width="1.0"/>
<line x1="34.4" y1="524.23" x2="36.6" y2="524.23" stroke="#333" stroke-width="1.0"/>
<line x1="268.45" y1="524.23" x2="266.25" y2="524.23" stroke="#333" stroke-width="1.0"/>
<line x1="34.4" y1="522.09" x2="36.6" y2="522.09" stroke="#333" stroke-width="1.0"/>
<line x1="268.45" y1="522.09" x2="266.25" y2="522.09" stroke="#333" stroke-width="1.0"/>
<line x1="34.4" y1="520.19" x2="36.6" y2="520.19" stroke="#333" stroke-width="1.0"/>
<line x1="268.45" y1="520.19" x2="266.25" y2="520.19" stroke="#333" stroke-width="1.0"/>
<line x1="34.4" y1="518.5" x2="38.7" y2="518.5" stroke="#333" stroke-width="1.0"/>
<line x1="268.45" y1="518.5" x2="264.15" y2="518.5" stroke="#333" stroke-width="1.0"/>
<line x1="34.4" y1="507.36" x2="36.6" y2="507.36" stroke="#333" stroke-width="1.0"/>
<line x1="268.45" y1="507.36" x2="266.25" y2="507.36" stroke="#333" stroke-width="1.0"/>
<line x1="34.4" y1="500.85" x2="36.6" y2="500.85" stroke="#333" stroke-width="1.0"/>
<line x1="268.45" y1="500.85" x2="266.25" y2="500.85" stroke="#333" stroke-width="1.0"/>
<line x1="34.4" y1="496.22" x2="36.6" y2="496.22" stroke="#333" stroke-width="1.0"/>
<line x1="268.45" y1="496.22" x2="266.25" y2="496.22" stroke="#333" stroke-width="1.0"/>
<line x1="34.4" y1="492.64" x2="36.6" y2="492.64" stroke="#333" stroke-width="1.0"/>
<line x1="268.45" y1="492.64" x2="266.25" y2="492.64" stroke="#333" stroke-width="1.0"/>
<line x1="34.4" y1="489.71" x2="36.6" y2="489.71" stroke="#333" stroke-width="1.0"/>
<line x1="268.45" y1="489.71" x2="266.25" y2="489.71" stroke="#333" stroke-width="1.0"/>
<line x1="34.4" y1="487.23" x2="36.6" y2="487.23" stroke="#333" stroke-width="1.0"/>
<line x1="268.45" y1="487.23" x2="266.25" y2="487.23" stroke="#333" stroke-width="1.0"/>
<line x1="34.4" y1="485.09" x2="36.6" y2="485.09" stroke="#333" stroke-width="1.0"/>
<line x1="268.45" y1="485.09" x2="266.25" y2="485.09" stroke="#333" stroke-width="1.0"/>
<line x1="34.4" y1="483.19" x2="36.6" y2="483.19" stroke="#333" stroke-width="1.0"/>
<line x1="268.45" y1="483.19" x2="266.25" y2="483.19" stroke="#333" stroke-width="1.0"/>
<line x1="34.4" y1="481.5" x2="38.7" y2="481.5" stroke="#333" stroke-width="1.0"/>
<line x1="268.45" y1="481.5" x2="264.15" y2="481.5" stroke="#333" stroke-width="1.0"/>
<line x1="34.4" y1="470.36" x2="36.6" y2="470.36" stroke="#333" stroke-width="1.0"/>
<line x1="268.45" y1="470.36" x2="266.25" y2="470.36" stroke="#333" stroke-width="1.0"/>
<line x1="34.4" y1="463.85" x2="36.6" y2="463.85" stroke="#333" stroke-width="1.0"/>
<line x1="268.45" y1="463.85" x2="266.25" y2="463.85" stroke="#333" stroke-width="1.0"/>
<line x1="34.4" y1="459.22" x2="36.6" y2="459.22" stroke="#333" stroke-width="1.0"/>
<line x1="268.45" y1="459.22" x2="266.25" y2="459.22" stroke="#333" stroke-width="1.0"/>
<line x1="34.4" y1="455.64" x2="36.6" y2="455.64" stroke="#333" stroke-width="1.0"/>
<line x1="268.45" y1="455.64" x2="266.25" y2="455.64" stroke="#333" stroke-width="1.0"/>
<line x1="34.4" y1="452.71" x2="36.6" y2="452.71" stroke="#333" stroke-width="1.0"/>
<line x1="268.45" y1="452.71" x2="266.25" y2="452.71" stroke="#333" stroke-width="1.0"/>
<line x1="34.4" y1="450.23" x2="36.6" y2="450.23" stroke="#333" stroke-width="1.0"/>
<line x1="268.45" y1="450.23" x2="266.25" y2="450.23" stroke="#333" stroke-width="1.0"/>
<line x1="34.4" y1="448.09" x2="36.6" y2="448.09" stroke="#333" stroke-width="1.0"/>
<line x1="268.45" y1="448.09" x2="266.25" y2="448.09" stroke="#333" stroke-width="1.0"/>
<line x1="34.4" y1="446.19" x2="36.6" y2="446.19" stroke="#333" stroke-width="1.0"/>
<line x1="268.45" y1="446.19" x2="266.25" y2="446.19" stroke="#333" stroke-width="1.0"/>
<line x1="34.4" y1="444.5" x2="38.7" y2="444.5" stroke="#333" stroke-width="1.0"/>
<line x1="268.45" y1="444.5" x2="264.15" y2="444.5" stroke="#333" stroke-width="1.0"/>
<line x1="34.4" y1="433.36" x2="36.6" y2="433.36" stroke="#333" stroke-width="1.0"/>
<line x1="268.45" y1="433.36" x2="266.25" y2="433.36" stroke="#333" stroke-width="1.0"/>
<line x1="34.4" y1="426.85" x2="36.6" y2="426.85" stroke="#333" stroke-width="1.0"/>
<line x1="268.45" y1="426.85" x2="266.25" y2="426.85" stroke="#333" stroke-width="1.0"/>
<line x1="34.4" y1="422.22" x2="36.6" y2="422.22" stroke="#333" stroke-width="1.0"/>
<line x1="268.45" y1="422.22" x2="266.25" y2="422.22" stroke="#333" stroke-width="1.0"/>
<line x1="34.4" y1="418.64" x2="36.6" y2="418.64" stroke="#333" stroke-width="1.0"/>
<line x1="268.45" y1="418.64" x2="266.25" y2="418.64" stroke="#333" stroke-width="1.0"/>
<line x1="34.4" y1="415.71" x2="36.6" y2="415.71" stroke="#333" stroke-width="1.0"/>
<line x1="268.45" y1="415.71" x2="266.25" y2="415.71" stroke="#333" stroke-width="1.0"/>
<line x1="34.4" y1="413.23" x2="36.6" y2="413.23" stroke="#333" stroke-width="1.0"/>
<line x1="268.45" y1="413.23" x2="266.25" y2="413.23" stroke="#333" stroke-width="1.0"/>
<line x1="34.4" y1="411.09" x2="36.6" y2="411.09" stroke="#333" stroke-width="1.0"/>
<line x1="268.45" y1="411.09" x2="266.25" y2="411.09" stroke="#333" stroke-width="1.0"/>
<line x1="34.4" y1="409.19" x2="36.6" y2="409.19" stroke="#333" stroke-width="1.0"/>
<line x1="268.45" y1="409.19" x2="266.25" y2="409.19" stroke="#333" stroke-width="1.0"/>
<line x1="34.4" y1="407.5" x2="38.7" y2="407.5" stroke="#333" stroke-width="1.0"/>
<line x1="268.45" y1="407.5" x2="264.15" y2="407.5" stroke="#333" stroke-width="1.0"/>
<line x1="34.4" y1="396.36" x2="36.6" y2="396.36" stroke="#333" stroke-width="1.0"/>
<line x1="268.45" y1="396.36" x2="266.25" y2="396.36" stroke="#333" stroke-width="1.0"/>
<line x1="34.4" y1="389.85" x2="36.6" y2="389.85" stroke="#333" stroke-width="1.0"/>
<line x1="268.45" y1="389.85" x2="266.25" y2="389.85" stroke="#333" stroke-width="1.0"/>
<line x1="34.4" y1="385.22" x2="36.6" y2="385.22" stroke="#333" stroke-width="1.0"/>
<line x1="268.45" y1="385.22" x2="266.25" y2="385.22" stroke="#333" stroke-width="1.0"/>
<line x1="34.4" y1="381.64" x2="36.6" y2="381.64" stroke="#333" stroke-width="1.0"/>
<line x1="268.45" y1="381.64" x2="266.25" y2="381.64" stroke="#333" stroke-width="1.0"/>
<line x1="34.4" y1="378.71" x2="36.6" y2="378.71" stroke="#333" stroke-width="1.0"/>
<line x1="268.45" y1="378.71" x2="266.25" y2="378.71" stroke="#333" stroke-width="1.0"/>
<line x1="34.4" y1="376.23" x2="36.6" y2="376.23" stroke="#333" stroke-width="1.0"/>
<line x1="268.45" y1="376.23" x2="266.25" y2="376.23" stroke="#333" stroke-width="1.0"/>
<line x1="34.4" y1="374.09" x2="36.6" y2="374.09" stroke="#333" stroke-width="1.0"/>
<line x1="268.45" y1="374.09" x2="266.25" y2="374.09" stroke="#333" stroke-width="1.0"/>
<line x1="34.4" y1="372.19" x2="36.6" y2="372.19" stroke="#333" stroke-width="1.0"/>
<line x1="268.45" y1="372.19" x2="266.25" y2="372.19" stroke="#333" stroke-width="1.0"/>
<line x1="34.4" y1="370.5" x2="38.7" y2="370.5" stroke="#333" stroke-width="1.0"/>
<line x1="268.45" y1="370.5" x2="264.15" y2="370.5" stroke="#333" stroke-width="1.0"/>
<line x1="34.4" y1="359.36" x2="36.6" y2="359.36" stroke="#333" stroke-width="1.0"/>
<line x1="268.45" y1="359.36" x2="266.25" y2="359.36" stroke="#333" stroke-width="1.0"/>
<text x="27.2" y="374.1" font-size="8.7" text-anchor="end" fill="#222">10</text>
<text x="27.2" y="370.4" font-size="5.8" fill="#222">6</text>
<text x="27.2" y="411.1" font-size="8.7" text-anchor="end" fill="#222">10</text>
<text x="27.2" y="407.4" font-size="5.8" fill="#222">5</text>
<text x="27.2" y="448.1" font-size="8.7" text-anchor="end" fill="#222">10</text>
<text x="27.2" y="444.4" font-size="5.8" fill="#222">4</text>
<text x="27.2" y="485.1" font-size="8.7" text-anchor="end" fill="#222">10</text>
<text x="27.2" y="481.4" font-size="5.8" fill="#222">3</text>
<text x="27.2" y="522.1" font-size="8.7" text-anchor="end" fill="#222">10</text>
<text x="27.2" y="518.4" font-size="5.8" fill="#222">2</text>
<text x="36" y="541.7" font-size="8.7" text-anchor="end" fill="#222">10</text>
<text x="36" y="538.0" font-size="5.8" fill="#222">-3</text>
<text x="184.35" y="541.7" font-size="8.7" text-anchor="end" fill="#222">10</text>
<text x="184.35" y="538.0" font-size="5.8" fill="#222">-2</text>
<text x="130" y="544" font-size="9.6" text-anchor="start" fill="#222">k (nm<tspan font-size="6.3" dy="-3.6">-1</tspan><tspan dy="3.6">)</tspan></text>
<text transform="translate(11.4,464.6) rotate(-90)" font-size="10.2" fill="#222">PSD (nm<tspan font-size="6.5" dy="-3.7">4</tspan><tspan dy="3.7">)</tspan></text>
<text x="259.8" y="370.7" font-size="9.2" text-anchor="end" fill="#222" class="s">(b)</text>
<clipPath id="cb"><rect x="34.4" y="357.0" width="234.05" height="171.75"/></clipPath>
<g clip-path="url(#cb)">
<rect x="39.1" y="368.1" width="1.6" height="1.6" fill="#f5a050"/>
<rect x="45.1" y="366.9" width="1.6" height="1.6" fill="#f5a050"/>
<rect x="50.3" y="370.2" width="1.6" height="1.6" fill="#f5a050"/>
<rect x="55" y="368.1" width="1.6" height="1.6" fill="#f5a050"/>
<rect x="59.3" y="370.6" width="1.6" height="1.6" fill="#f5a050"/>
<rect x="63.7" y="373.3" width="1.6" height="1.6" fill="#f5a050"/>
<rect x="67.4" y="371.1" width="1.6" height="1.6" fill="#f5a050"/>
<rect x="71.4" y="370.8" width="1.6" height="1.6" fill="#f5a050"/>
<rect x="74.9" y="371.5" width="1.6" height="1.6" fill="#f5a050"/>
<rect x="78" y="369.9" width="1.6" height="1.6" fill="#f5a050"/>
<rect x="81.1" y="372.7" width="1.6" height="1.6" fill="#f5a050"/>
<rect x="84.4" y="373.3" width="1.6" height="1.6" fill="#f5a050"/>
<rect x="86.9" y="372.1" width="1.6" height="1.6" fill="#f5a050"/>
<rect x="90" y="371.5" width="1.6" height="1.6" fill="#f5a050"/>
<rect x="92.7" y="373.1" width="1.6" height="1.6" fill="#f5a050"/>
<rect x="95.2" y="372.4" width="1.6" height="1.6" fill="#f5a050"/>
<rect x="98.5" y="373.8" width="1.6" height="1.6" fill="#f5a050"/>
<rect x="101.6" y="376" width="1.6" height="1.6" fill="#f5a050"/>
<rect x="105" y="376.5" width="1.6" height="1.6" fill="#f5a050"/>
<path d="M108.6,378.5 L117.9,376.6 L123.5,379.1 L130.9,380.3 L136.5,382.2 L143.3,385.3 L148.3,387.8 L155,389.5 L157.4,391.5 L164.9,395.3 L172.3,400.2 L178.5,406.2 L184.7,412.6 L190,420 L194.8,424.8 L198.6,429.3 L203.4,433.6 L208.2,438.3 L212.9,442.9 L217.7,447.5 L220.2,450.8 L225.5,455.5 L230.7,458.6 L236,460.7 L241.2,463.9 L246.5,467 L251.7,469.7 L257,472.3 L262.2,474.4 L264.3,476.5" fill="none" stroke="#f9c080" stroke-width="0.9"/>
<path d="M184.7,412.6 L190,420 L194.8,424.8 L198.6,429.3 L203.4,433.6 L208.2,438.3 L212.9,442.9 L217.7,447.5 L220.2,450.8 L225.5,455.5 L230.7,458.6 L236,460.7 L241.2,463.9 L246.5,467 L251.7,469.7 L257,472.3 L262.2,474.4 L264.3,476.5" fill="none" stroke="#f88c28" stroke-width="1.3"/>
<rect x="107.97" y="377.66" width="1.25" height="1.25" fill="#f59030"/>
<rect x="109.52" y="377.14" width="1.25" height="1.25" fill="#f59030"/>
<rect x="111.08" y="377.42" width="1.25" height="1.25" fill="#f59030"/>
<rect x="112.62" y="376.41" width="1.25" height="1.25" fill="#f59030"/>
<rect x="114.17" y="376.65" width="1.25" height="1.25" fill="#f59030"/>
<rect x="115.73" y="376.13" width="1.25" height="1.25" fill="#f59030"/>
<rect x="117.28" y="375.44" width="1.25" height="1.25" fill="#f59030"/>
<rect x="119.14" y="376.82" width="1.25" height="1.25" fill="#f59030"/>
<rect x="121.01" y="377.09" width="1.25" height="1.25" fill="#f59030"/>
<rect x="122.88" y="378.4" width="1.25" height="1.25" fill="#f59030"/>
<rect x="124.72" y="378.26" width="1.25" height="1.25" fill="#f59030"/>
<rect x="126.58" y="378.58" width="1.25" height="1.25" fill="#f59030"/>
<rect x="128.43" y="379.28" width="1.25" height="1.25" fill="#f59030"/>
<rect x="130.28" y="380.07" width="1.25" height="1.25" fill="#f59030"/>
<rect x="132.14" y="379.86" width="1.25" height="1.25" fill="#f59030"/>
<rect x="134.01" y="380.61" width="1.25" height="1.25" fill="#f59030"/>
<rect x="135.88" y="381.73" width="1.25" height="1.25" fill="#f59030"/>
<rect x="137.57" y="382.89" width="1.25" height="1.25" fill="#f59030"/>
<rect x="139.28" y="383.22" width="1.25" height="1.25" fill="#f59030"/>
<rect x="140.98" y="383.78" width="1.25" height="1.25" fill="#f59030"/>
<rect x="142.68" y="385.25" width="1.25" height="1.25" fill="#f59030"/>
<rect x="144.34" y="384.96" width="1.25" height="1.25" fill="#f59030"/>
<rect x="146.01" y="386.77" width="1.25" height="1.25" fill="#f59030"/>
<rect x="147.68" y="386.92" width="1.25" height="1.25" fill="#f59030"/>
<rect x="149.35" y="387.17" width="1.25" height="1.25" fill="#f59030"/>
<rect x="151.03" y="387.57" width="1.25" height="1.25" fill="#f59030"/>
<rect x="152.7" y="388.22" width="1.25" height="1.25" fill="#f59030"/>
<rect x="154.38" y="389.25" width="1.25" height="1.25" fill="#f59030"/>
<rect x="156.78" y="390.49" width="1.25" height="1.25" fill="#f59030"/>
<rect x="158.28" y="391.73" width="1.25" height="1.25" fill="#f59030"/>
<rect x="159.62" y="392.41" width="1.55" height="1.55" fill="#f59030"/>
<rect x="161.12" y="392.85" width="1.55" height="1.55" fill="#f59030"/>
<rect x="162.62" y="393.82" width="1.55" height="1.55" fill="#f59030"/>
<rect x="164.12" y="394" width="1.55" height="1.55" fill="#f59030"/>
<rect x="165.97" y="395.22" width="1.55" height="1.55" fill="#f59030"/>
<rect x="167.83" y="396.62" width="1.55" height="1.55" fill="#f59030"/>
<rect x="169.68" y="398.42" width="1.55" height="1.55" fill="#f59030"/>
<rect x="171.53" y="399.34" width="1.55" height="1.55" fill="#f59030"/>
<rect x="173.08" y="400.7" width="1.55" height="1.55" fill="#f59030"/>
<rect x="174.62" y="402.53" width="1.55" height="1.55" fill="#f59030"/>
<rect x="176.17" y="403.87" width="1.55" height="1.55" fill="#f59030"/>
<rect x="177.72" y="405.18" width="1.55" height="1.55" fill="#f59030"/>
<rect x="179.28" y="407.38" width="1.55" height="1.55" fill="#f59030"/>
<rect x="180.82" y="408.86" width="1.55" height="1.55" fill="#f59030"/>
<rect x="182.37" y="409.92" width="1.55" height="1.55" fill="#f59030"/>
<rect x="183.92" y="411.91" width="1.55" height="1.55" fill="#f59030"/>
<rect x="185.57" y="414.2" width="1.8" height="1.8" fill="#f59030"/>
<rect x="187.33" y="417.08" width="1.8" height="1.8" fill="#f59030"/>
<rect x="189.1" y="419.38" width="1.8" height="1.8" fill="#f59030"/>
<rect x="190.7" y="420.45" width="1.8" height="1.8" fill="#f59030"/>
<rect x="192.3" y="422.88" width="1.8" height="1.8" fill="#f59030"/>
<rect x="193.9" y="423.44" width="1.8" height="1.8" fill="#f59030"/>
<rect x="195.8" y="426.05" width="1.8" height="1.8" fill="#f59030"/>
<rect x="197.7" y="428.71" width="1.8" height="1.8" fill="#f59030"/>
<rect x="199.3" y="429.42" width="1.8" height="1.8" fill="#f59030"/>
<rect x="200.9" y="431.25" width="1.8" height="1.8" fill="#f59030"/>
<rect x="202.5" y="432.15" width="1.8" height="1.8" fill="#f59030"/>
<rect x="204.1" y="434.47" width="1.8" height="1.8" fill="#f59030"/>
<rect x="205.7" y="436.15" width="1.8" height="1.8" fill="#f59030"/>
<rect x="207.3" y="437.49" width="1.8" height="1.8" fill="#f59030"/>
<rect x="208.87" y="439.38" width="1.8" height="1.8" fill="#f59030"/>
<rect x="210.43" y="440.24" width="1.8" height="1.8" fill="#f59030"/>
<rect x="212" y="442.23" width="1.8" height="1.8" fill="#f59030"/>
<rect x="213.6" y="443.65" width="1.8" height="1.8" fill="#f59030"/>
<rect x="215.2" y="445.16" width="1.8" height="1.8" fill="#f59030"/>
<rect x="216.8" y="446.55" width="1.8" height="1.8" fill="#f59030"/>
<rect x="219.3" y="450.31" width="1.8" height="1.8" fill="#f59030"/>
<rect x="221.07" y="452" width="1.8" height="1.8" fill="#f59030"/>
<rect x="222.83" y="453" width="1.8" height="1.8" fill="#f59030"/>
<rect x="224.6" y="454.8" width="1.8" height="1.8" fill="#f59030"/>
<rect x="226.33" y="455.11" width="1.8" height="1.8" fill="#f59030"/>
<rect x="228.07" y="456.91" width="1.8" height="1.8" fill="#f59030"/>
<rect x="229.8" y="457.88" width="1.8" height="1.8" fill="#f59030"/>
<rect x="231.57" y="458.99" width="1.8" height="1.8" fill="#f59030"/>
<rect x="233.33" y="459.49" width="1.8" height="1.8" fill="#f59030"/>
<rect x="235.1" y="459.54" width="1.8" height="1.8" fill="#f59030"/>
<rect x="236.83" y="460.73" width="1.8" height="1.8" fill="#f59030"/>
<rect x="238.57" y="462.14" width="1.8" height="1.8" fill="#f59030"/>
<rect x="240.3" y="462.43" width="1.8" height="1.8" fill="#f59030"/>
<rect x="242.07" y="463.99" width="1.8" height="1.8" fill="#f59030"/>
<rect x="243.83" y="464.67" width="1.8" height="1.8" fill="#f59030"/>
<rect x="245.6" y="465.64" width="1.8" height="1.8" fill="#f59030"/>
<rect x="247.33" y="466.47" width="1.8" height="1.8" fill="#f59030"/>
<rect x="249.07" y="468.22" width="1.8" height="1.8" fill="#f59030"/>
<rect x="250.8" y="468.36" width="1.8" height="1.8" fill="#f59030"/>
<rect x="252.57" y="469.36" width="1.8" height="1.8" fill="#f59030"/>
<rect x="254.33" y="470.4" width="1.8" height="1.8" fill="#f59030"/>
<rect x="256.1" y="471.85" width="1.8" height="1.8" fill="#f59030"/>
<rect x="257.83" y="471.6" width="1.8" height="1.8" fill="#f59030"/>
<rect x="259.57" y="472.74" width="1.8" height="1.8" fill="#f59030"/>
<rect x="261.3" y="473.56" width="1.8" height="1.8" fill="#f59030"/>
<rect x="263.4" y="476.06" width="1.8" height="1.8" fill="#f59030"/>
<rect x="257.3" y="467.3" width="1.4" height="1.4" fill="#f7a040"/>
<rect x="259.8" y="470.3" width="1.4" height="1.4" fill="#f7a040"/>
<rect x="261.8" y="466.8" width="1.4" height="1.4" fill="#f7a040"/>
<rect x="263.1" y="469.8" width="1.4" height="1.4" fill="#f7a040"/>
<rect x="264.1" y="465.3" width="1.4" height="1.4" fill="#f7a040"/>
<rect x="264.6" y="459.3" width="1.4" height="1.4" fill="#f7a040"/>
<rect x="260.3" y="475.3" width="1.4" height="1.4" fill="#f7a040"/>
<rect x="262.3" y="477.3" width="1.4" height="1.4" fill="#f7a040"/>
<path d="M34.3,401.7 L59.8,401.7 L79,408.6 L93.3,405.4 L95,405 L100.2,405.5 L105.5,406.5 L110.7,408.1 L116,409.7 L121.2,410.2 L125.4,409.7 L128.6,412.3" fill="none" stroke="#f03535" stroke-width="1.6"/>
<path d="M128.6,412.3 L131.7,414.9 L137,415.5 L142.2,414.4 L145.7,416.5 L149.2,422.2 L151.5,422.2 L154.9,420.5 L158.3,422.2 L162.9,425 L167.5,427.9 L172.1,431.3 L176.6,435.2 L179.5,437.2 L184.3,440 L189.1,443.4 L192.9,447.7 L196.7,451.5" fill="none" stroke="#f04848" stroke-width="1.1" stroke-dasharray="2.6 1.2"/>
<path d="M195,449.5 L200.5,452.6 L204.4,456.3 L208.2,460.1 L212.9,463.9 L217.7,467.9 L220.2,470.8 L225.5,477.2 L229.5,481.6 L233.5,485.5 L238.6,490.9 L243,495.8 L247.7,500.9 L252.2,505.5 L256.8,510 L260,513.7 L263.2,517.3 L266.8,521.8 L269,524.5" fill="none" stroke="#f8c0c0" stroke-width="3.4"/>
<rect x="193.9" y="448.4" width="2.2" height="2.2" fill="#fff" stroke="#f3a0a0" stroke-width="0.5"/>
<rect x="196.65" y="449.95" width="2.2" height="2.2" fill="#fff" stroke="#f3a0a0" stroke-width="0.5"/>
<rect x="199.4" y="451.5" width="2.2" height="2.2" fill="#fff" stroke="#f3a0a0" stroke-width="0.5"/>
<rect x="203.3" y="455.2" width="2.2" height="2.2" fill="#fff" stroke="#f3a0a0" stroke-width="0.5"/>
<rect x="207.1" y="459" width="2.2" height="2.2" fill="#fff" stroke="#f3a0a0" stroke-width="0.5"/>
<rect x="209.45" y="460.9" width="2.2" height="2.2" fill="#fff" stroke="#f3a0a0" stroke-width="0.5"/>
<rect x="211.8" y="462.8" width="2.2" height="2.2" fill="#fff" stroke="#f3a0a0" stroke-width="0.5"/>
<rect x="214.2" y="464.8" width="2.2" height="2.2" fill="#fff" stroke="#f3a0a0" stroke-width="0.5"/>
<rect x="216.6" y="466.8" width="2.2" height="2.2" fill="#fff" stroke="#f3a0a0" stroke-width="0.5"/>
<rect x="219.1" y="469.7" width="2.2" height="2.2" fill="#fff" stroke="#f3a0a0" stroke-width="0.5"/>
<rect x="221.75" y="472.9" width="2.2" height="2.2" fill="#fff" stroke="#f3a0a0" stroke-width="0.5"/>
<rect x="224.4" y="476.1" width="2.2" height="2.2" fill="#fff" stroke="#f3a0a0" stroke-width="0.5"/>
<rect x="228.4" y="480.5" width="2.2" height="2.2" fill="#fff" stroke="#f3a0a0" stroke-width="0.5"/>
<rect x="232.4" y="484.4" width="2.2" height="2.2" fill="#fff" stroke="#f3a0a0" stroke-width="0.5"/>
<rect x="234.95" y="487.1" width="2.2" height="2.2" fill="#fff" stroke="#f3a0a0" stroke-width="0.5"/>
<rect x="237.5" y="489.8" width="2.2" height="2.2" fill="#fff" stroke="#f3a0a0" stroke-width="0.5"/>
<rect x="239.7" y="492.25" width="2.2" height="2.2" fill="#fff" stroke="#f3a0a0" stroke-width="0.5"/>
<rect x="241.9" y="494.7" width="2.2" height="2.2" fill="#fff" stroke="#f3a0a0" stroke-width="0.5"/>
<rect x="244.25" y="497.25" width="2.2" height="2.2" fill="#fff" stroke="#f3a0a0" stroke-width="0.5"/>
<rect x="246.6" y="499.8" width="2.2" height="2.2" fill="#fff" stroke="#f3a0a0" stroke-width="0.5"/>
<rect x="248.85" y="502.1" width="2.2" height="2.2" fill="#fff" stroke="#f3a0a0" stroke-width="0.5"/>
<rect x="251.1" y="504.4" width="2.2" height="2.2" fill="#fff" stroke="#f3a0a0" stroke-width="0.5"/>
<rect x="253.4" y="506.65" width="2.2" height="2.2" fill="#fff" stroke="#f3a0a0" stroke-width="0.5"/>
<rect x="255.7" y="508.9" width="2.2" height="2.2" fill="#fff" stroke="#f3a0a0" stroke-width="0.5"/>
<rect x="258.9" y="512.6" width="2.2" height="2.2" fill="#fff" stroke="#f3a0a0" stroke-width="0.5"/>
<rect x="262.1" y="516.2" width="2.2" height="2.2" fill="#fff" stroke="#f3a0a0" stroke-width="0.5"/>
<rect x="265.7" y="520.7" width="2.2" height="2.2" fill="#fff" stroke="#f3a0a0" stroke-width="0.5"/>
<rect x="267.9" y="523.4" width="2.2" height="2.2" fill="#fff" stroke="#f3a0a0" stroke-width="0.5"/>
<rect x="58.8" y="400.7" width="2" height="2" fill="#fff" stroke="#f06060" stroke-width="0.6"/>
<rect x="78" y="407.6" width="2" height="2" fill="#fff" stroke="#f06060" stroke-width="0.6"/>
<rect x="92.3" y="404.4" width="2" height="2" fill="#fff" stroke="#f06060" stroke-width="0.6"/>
<path d="M34.3,408.2 L39.9,414.8 L46.1,412.2 L50.5,413.5 L54.8,412.6 L60.4,411.3 L66,412.6 L72.2,414.8 L77.1,412 L83.3,409.9 L87.7,412 L90.8,409.5 L95,411.8 L99.2,411.3 L102.3,412.8 L105.5,410.7 L108.6,410.2 L111.8,411.3 L114.9,409.2 L118.1,411.3 L121.2,410.7 L124.4,409.7 L127.5,408.6 L130.7,409.7 L133.8,410.7 L137,410.7 L140.1,411.3 L144.6,413 L149.2,413.6 L153.7,413.6 L158.3,415.3 L162.9,416.5 L167.5,418.2 L172.1,419.3 L174.8,422.8 L179.5,426.2 L184.3,429.2 L189.1,432.2 L193.9,435.3 L198.6,439.6 L203.4,443.9 L208.2,448.6 L212.9,453.2 L217.7,457.4 L220.2,459.7 L225.5,464.4 L230.7,468.6 L236,473.8 L241.2,477.4 L244.7,480.4 L248.6,483.4 L252.5,486 L257,488 L261.2,489.2 L263.5,490.5 L264.5,487 L265,481" fill="none" stroke="#000" stroke-width="1.2"/>
<path d="M140.1,411.81 L141,412.22 L141.9,411.63 L142.8,412.18 L143.7,412.43 L144.6,413.61 L145.52,413.85 L146.44,412.68 L147.36,412.84 L148.28,413.05 L149.2,413.17 L150.1,413.58 L151,413.74 L151.9,413.22 L152.8,412.81 L153.7,413.47 L154.62,413.73 L155.54,414.39 L156.46,415.34 L157.38,415.26 L158.3,415.32 L159.22,415.73 L160.14,416.06 L161.06,415.31 L161.98,416.9 L162.9,416.95 L163.82,417.44 L164.74,417.66 L165.66,417.35 L166.58,417.7 L167.5,417.57 L168.42,418.63 L169.34,417.94 L170.26,418.17 L171.18,418.61 L172.1,418.76 L173,420.21 L173.9,420.92 L174.8,422 L175.74,422.92 L176.68,423.52 L177.62,424.62 L178.56,424.76 L179.5,426.8 L180.46,426.98 L181.42,426.84 L182.38,427.6 L183.34,428.36 L184.3,428.98 L185.26,429.2 L186.22,430.96 L187.18,431.79 L188.14,431.55 L189.1,432.17 L190.06,432.16 L191.02,432.8 L191.98,433.81 L192.94,434.3 L193.9,435.83 L194.84,435.62 L195.78,436.26 L196.72,438.6 L197.66,438.79 L198.6,439.03 L199.56,440.53 L200.52,440.56 L201.48,442.22 L202.44,443.81 L203.4,444.48 L204.36,445.15 L205.32,445.4 L206.28,446.51 L207.24,447.13 L208.2,449.04 L209.14,449.57 L210.08,450.89 L211.02,451.09 L211.96,451.84 L212.9,453.7 L213.86,454.82 L214.82,455.44 L215.78,456.21 L216.74,457.07 L217.7,457.78 L218.95,458.11 L220.2,459.73 L221.26,460.41 L222.32,460.83 L223.38,461.76 L224.44,463.11 L225.5,464.01 L226.54,465.55 L227.58,466.81 L228.62,466.84 L229.66,468.46 L230.7,469.38 L231.76,470.37 L232.82,470.46 L233.88,471.27 L234.94,472.32 L236,473.31 L237.04,474.05 L238.08,475.44 L239.12,476.6 L240.16,477.22 L241.2,477.37 L242.37,478.64 L243.53,479.88 L244.7,479.74 L245.67,481.41 L246.65,482.56 L247.62,483.1 L248.6,483.8 L249.57,484.01 L250.55,484.19 L251.53,485.81 L252.5,485.73 L253.4,486.88 L254.3,487.55 L255.2,487.03 L256.1,487.44 L257,488.71 L258.05,488.66 L259.1,488.07 L260.15,488.3 L261.2,488.64 L262.35,490.5" fill="none" stroke="#000" stroke-width="1.3"/>
<path d="M193.9,435.3 L198.6,439.6 L203.4,443.9 L208.2,448.6 L212.9,453.2 L217.7,457.4 L220.2,459.7 L225.5,464.4 L230.7,468.6 L236,473.8 L241.2,477.4 L244.7,480.4 L248.6,483.4 L252.5,486 L257,488 L261.2,489.2 L263.5,490.5" fill="none" stroke="#000" stroke-width="2.0"/>
<path d="M236.65,475.29 L237.3,473.5 L237.95,476.26 L238.6,477.23 L239.25,476.58 L239.9,475.99 L240.55,477.12 L241.2,476.15 L241.9,476.35 L242.6,480.2 L243.3,479.71 L244,479.89 L244.7,481.87 L245.35,480.67 L246,482.66 L246.65,483.01 L247.3,481.42 L247.95,482.06 L248.6,482.7 L249.25,482.95 L249.9,484.56 L250.55,483.88 L251.2,484.86 L251.85,484.31 L252.5,487.39 L253.14,485.79 L253.79,486.43 L254.43,487.14 L255.07,488.52 L255.71,487.16 L256.36,489.13 L257,488.01 L257.7,488.31 L258.4,488.48 L259.1,486.96 L259.8,488.6 L260.5,487.92 L261.2,487.51 L261.97,490.65 L262.73,488.95" fill="none" stroke="#000" stroke-width="1.0"/>
<path d="M215.3,455.24 L216.1,456.5 L216.9,456.82 L217.7,457.02 L218.53,458.21 L219.37,459.06 L220.2,460.33 L220.96,459.5 L221.71,461.18 L222.47,461.16 L223.23,461.89 L223.99,463.66 L224.74,463.75 L225.5,464.54 L226.24,465.57 L226.99,466.51 L227.73,466.08 L228.47,467.05 L229.21,467.41 L229.96,468.03 L230.7,469.02 L231.46,469.24 L232.21,470.16 L232.97,470.78 L233.73,472.54 L234.49,472.75 L235.24,473.89 L236,474.77 L236.74,473.79 L237.49,474.96 L238.23,476.32 L238.97,476.61 L239.71,475.57 L240.46,476.05 L241.2,477.27 L241.9,477.06 L242.6,478.03 L243.3,478.26 L244,480.17 L244.7,481.02 L245.48,481.87 L246.26,480.84 L247.04,482.68 L247.82,483.15 L248.6,482.61 L249.38,484.76 L250.16,485.47 L250.94,484.34 L251.72,486.48 L252.5,485.78 L253.25,486.31 L254,487.74 L254.75,487.73 L255.5,486.59 L256.25,487.52 L257,488.03 L257.84,487.89 L258.68,487.81 L259.52,488.32 L260.36,489.45 L261.2,488.14 L261.97,489.75 L262.73,489.94" fill="none" stroke="#000" stroke-width="0.9"/>
<path d="M263.5,490.5 L264,493 L264.5,486 L265,480.5 L265.4,478" fill="none" stroke="#000" stroke-width="1.2"/>
<path d="M32.7,405.8 L35.7,404.2 L35.7,407.4Z" fill="#0000ff"/>
<path d="M44.3,400.2 L47.3,398.6 L47.3,401.8Z" fill="#0000ff"/>
<path d="M54.2,407 L57.2,405.4 L57.2,408.6Z" fill="#0000ff"/>
<path d="M62.9,401.2 L65.9,399.6 L65.9,402.8Z" fill="#0000ff"/>
<path d="M70.6,401.2 L73.6,399.6 L73.6,402.8Z" fill="#0000ff"/>
<path d="M77.2,402.4 L80.2,400.8 L80.2,404Z" fill="#0000ff"/>
<path d="M83,399.6 L86,398 L86,401.2Z" fill="#0000ff"/>
<path d="M88.9,400.2 L91.9,398.6 L91.9,401.8Z" fill="#0000ff"/>
<path d="M93.4,402.3 L96.4,400.7 L96.4,403.9Z" fill="#0000ff"/>
<path d="M98.6,402.6 L101.6,401 L101.6,404.2Z" fill="#0000ff"/>
<path d="M103.4,400.8 L106.4,399.2 L106.4,402.4Z" fill="#0000ff"/>
<path d="M107,406.5 L110,404.9 L110,408.1Z" fill="#0000ff"/>
<path d="M111.2,406 L114.2,404.4 L114.2,407.6Z" fill="#0000ff"/>
<path d="M114.9,405.2 L117.9,403.6 L117.9,406.8Z" fill="#0000ff"/>
<path d="M118.6,405 L121.6,403.4 L121.6,406.6Z" fill="#0000ff"/>
<path d="M121.7,405 L124.7,403.4 L124.7,406.6Z" fill="#0000ff"/>
<path d="M124.9,408.6 L127.9,407 L127.9,410.2Z" fill="#0000ff"/>
<path d="M128,407.6 L131,406 L131,409.2Z" fill="#0000ff"/>
<path d="M130.7,408.1 L133.7,406.5 L133.7,409.7Z" fill="#0000ff"/>
<path d="M133.3,408.6 L136.3,407 L136.3,410.2Z" fill="#0000ff"/>
<path d="M135.9,409.2 L138.9,407.6 L138.9,410.8Z" fill="#0000ff"/>
<path d="M135.4,409.2 L139.3,407.2 L139.3,411.2Z" fill="#0000ff"/>
<path d="M137.9,409.6 L141.8,407.6 L141.8,411.6Z" fill="#0000ff"/>
<path d="M140.2,411.3 L144.1,409.3 L144.1,413.3Z" fill="#0000ff"/>
<path d="M142.5,413 L146.4,411 L146.4,415Z" fill="#0000ff"/>
<path d="M144.8,414.75 L148.7,412.75 L148.7,416.75Z" fill="#0000ff"/>
<path d="M147.1,416.5 L151,414.5 L151,418.5Z" fill="#0000ff"/>
<path d="M149.35,416.75 L153.25,414.75 L153.25,418.75Z" fill="#0000ff"/>
<path d="M151.6,417 L155.5,415 L155.5,419Z" fill="#0000ff"/>
<path d="M153.9,417.3 L157.8,415.3 L157.8,419.3Z" fill="#0000ff"/>
<path d="M156.2,417.6 L160.1,415.6 L160.1,419.6Z" fill="#0000ff"/>
<path d="M158.5,418.45 L162.4,416.45 L162.4,420.45Z" fill="#0000ff"/>
<path d="M160.8,419.3 L164.7,417.3 L164.7,421.3Z" fill="#0000ff"/>
<path d="M163.1,420.15 L167,418.15 L167,422.15Z" fill="#0000ff"/>
<path d="M165.4,421 L169.3,419 L169.3,423Z" fill="#0000ff"/>
<path d="M167.7,422.75 L171.6,420.75 L171.6,424.75Z" fill="#0000ff"/>
<path d="M170,424.5 L173.9,422.5 L173.9,426.5Z" fill="#0000ff"/>
<path d="M172.7,426.7 L176.6,424.7 L176.6,428.7Z" fill="#0000ff"/>
<path d="M175.05,428.1 L178.95,426.1 L178.95,430.1Z" fill="#0000ff"/>
<path d="M177.4,429.5 L181.3,427.5 L181.3,431.5Z" fill="#0000ff"/>
<path d="M179.8,430.95 L183.7,428.95 L183.7,432.95Z" fill="#0000ff"/>
<path d="M182.2,432.4 L186.1,430.4 L186.1,434.4Z" fill="#0000ff"/>
<path d="M184.6,433.85 L188.5,431.85 L188.5,435.85Z" fill="#0000ff"/>
<path d="M187,435.3 L190.9,433.3 L190.9,437.3Z" fill="#0000ff"/>
<path d="M189.4,436.95 L193.3,434.95 L193.3,438.95Z" fill="#0000ff"/>
<path d="M191.8,438.6 L195.7,436.6 L195.7,440.6Z" fill="#0000ff"/>
<path d="M194.15,440.75 L198.05,438.75 L198.05,442.75Z" fill="#0000ff"/>
<path d="M196.5,442.9 L200.4,440.9 L200.4,444.9Z" fill="#0000ff"/>
<path d="M198.6,442.9 L203.4,447.7 L208.2,451.5 L212.9,455.8 L217.7,460.1 L220.2,461.8 L225.5,467.6 L230.7,473.3 L236.4,480 L243.2,488 L249.5,495.5 L255.9,502.8 L261.4,509 L266.8,515 L269,517.5" fill="none" stroke="#0000ff" stroke-width="3.4"/>
<line x1="199" y1="455" x2="255.2" y2="516" stroke="#111" stroke-width="1.1" stroke-dasharray="3 1.7 1 1.7"/>
</g>
<text x="207.5" y="492" font-size="9.2" fill="#222"><tspan font-family="Liberation Serif, serif">&#945;</tspan>~1</text>
<line x1="136.5" y1="366.8" x2="136.5" y2="379.3" stroke="#f29a48" stroke-width="0.8"/>
<path d="M135.1,375.9 L136.5,379.3 L137.9,375.9" fill="none" stroke="#f29a48" stroke-width="0.8"/>
<line x1="144.4" y1="396.8" x2="144.4" y2="407" stroke="#3a3aff" stroke-width="0.8"/>
<path d="M143,403.6 L144.4,407 L145.8,403.6" fill="none" stroke="#3a3aff" stroke-width="0.8"/>
<line x1="173.2" y1="406" x2="173.2" y2="417.2" stroke="#222" stroke-width="0.8"/>
<path d="M171.8,413.8 L173.2,417.2 L174.6,413.8" fill="none" stroke="#222" stroke-width="0.8"/>
<line x1="154.3" y1="439.4" x2="154.3" y2="424.8" stroke="#f25050" stroke-width="0.8"/>
<path d="M152.9,428.2 L154.3,424.8 L155.7,428.2" fill="none" stroke="#f25050" stroke-width="0.8"/>
<line x1="38" y1="492.6" x2="55.6" y2="492.6" stroke="#000" stroke-width="1.5"/>
<line x1="38" y1="502.1" x2="55.6" y2="502.1" stroke="#f03030" stroke-width="1.5"/>
<rect x="45.9" y="501.1" width="2" height="2" fill="#fff" stroke="#f06060" stroke-width="0.6"/>
<rect x="46.4" y="511.4" width="1.4" height="1.4" fill="#2020ff"/>
<rect x="46.4" y="520.6" width="1.4" height="1.4" fill="#f5a050"/>
<text x="57.9" y="495.3" font-size="7.5" text-anchor="start" fill="#222" class="s">&lt; 360 K (0 W)</text>
<text x="57.9" y="504.8" font-size="7.5" text-anchor="start" fill="#222" class="s">410 K (500 W)</text>
<text x="57.9" y="514.9" font-size="7.5" text-anchor="start" fill="#222" class="s">493 K (1000 W)</text>
<text x="57.9" y="524.1" font-size="7.5" text-anchor="start" fill="#222" class="s">515 K (1500 W)</text>
<rect x="34.4" y="357.0" width="234.05" height="171.75" fill="none" stroke="#333" stroke-width="1.2"/>
<line x1="296.94" y1="524.2" x2="296.94" y2="522" stroke="#333" stroke-width="1.0"/>
<line x1="296.94" y1="357.33" x2="296.94" y2="359.53" stroke="#333" stroke-width="1.0"/>
<line x1="308.32" y1="524.2" x2="308.32" y2="519.9" stroke="#333" stroke-width="1.0"/>
<line x1="308.32" y1="357.33" x2="308.32" y2="361.63" stroke="#333" stroke-width="1.0"/>
<line x1="319.71" y1="524.2" x2="319.71" y2="522" stroke="#333" stroke-width="1.0"/>
<line x1="319.71" y1="357.33" x2="319.71" y2="359.53" stroke="#333" stroke-width="1.0"/>
<line x1="331.1" y1="524.2" x2="331.1" y2="519.9" stroke="#333" stroke-width="1.0"/>
<line x1="331.1" y1="357.33" x2="331.1" y2="361.63" stroke="#333" stroke-width="1.0"/>
<line x1="342.49" y1="524.2" x2="342.49" y2="522" stroke="#333" stroke-width="1.0"/>
<line x1="342.49" y1="357.33" x2="342.49" y2="359.53" stroke="#333" stroke-width="1.0"/>
<line x1="353.88" y1="524.2" x2="353.88" y2="519.9" stroke="#333" stroke-width="1.0"/>
<line x1="353.88" y1="357.33" x2="353.88" y2="361.63" stroke="#333" stroke-width="1.0"/>
<line x1="365.26" y1="524.2" x2="365.26" y2="522" stroke="#333" stroke-width="1.0"/>
<line x1="365.26" y1="357.33" x2="365.26" y2="359.53" stroke="#333" stroke-width="1.0"/>
<line x1="376.65" y1="524.2" x2="376.65" y2="519.9" stroke="#333" stroke-width="1.0"/>
<line x1="376.65" y1="357.33" x2="376.65" y2="361.63" stroke="#333" stroke-width="1.0"/>
<line x1="388.04" y1="524.2" x2="388.04" y2="522" stroke="#333" stroke-width="1.0"/>
<line x1="388.04" y1="357.33" x2="388.04" y2="359.53" stroke="#333" stroke-width="1.0"/>
<line x1="399.43" y1="524.2" x2="399.43" y2="519.9" stroke="#333" stroke-width="1.0"/>
<line x1="399.43" y1="357.33" x2="399.43" y2="361.63" stroke="#333" stroke-width="1.0"/>
<line x1="410.81" y1="524.2" x2="410.81" y2="522" stroke="#333" stroke-width="1.0"/>
<line x1="410.81" y1="357.33" x2="410.81" y2="359.53" stroke="#333" stroke-width="1.0"/>
<line x1="422.2" y1="524.2" x2="422.2" y2="519.9" stroke="#333" stroke-width="1.0"/>
<line x1="422.2" y1="357.33" x2="422.2" y2="361.63" stroke="#333" stroke-width="1.0"/>
<line x1="433.59" y1="524.2" x2="433.59" y2="522" stroke="#333" stroke-width="1.0"/>
<line x1="433.59" y1="357.33" x2="433.59" y2="359.53" stroke="#333" stroke-width="1.0"/>
<line x1="444.98" y1="524.2" x2="444.98" y2="519.9" stroke="#333" stroke-width="1.0"/>
<line x1="444.98" y1="357.33" x2="444.98" y2="361.63" stroke="#333" stroke-width="1.0"/>
<line x1="456.36" y1="524.2" x2="456.36" y2="522" stroke="#333" stroke-width="1.0"/>
<line x1="456.36" y1="357.33" x2="456.36" y2="359.53" stroke="#333" stroke-width="1.0"/>
<line x1="467.75" y1="524.2" x2="467.75" y2="519.9" stroke="#333" stroke-width="1.0"/>
<line x1="467.75" y1="357.33" x2="467.75" y2="361.63" stroke="#333" stroke-width="1.0"/>
<line x1="479.14" y1="524.2" x2="479.14" y2="522" stroke="#333" stroke-width="1.0"/>
<line x1="479.14" y1="357.33" x2="479.14" y2="359.53" stroke="#333" stroke-width="1.0"/>
<line x1="490.52" y1="524.2" x2="490.52" y2="519.9" stroke="#333" stroke-width="1.0"/>
<line x1="490.52" y1="357.33" x2="490.52" y2="361.63" stroke="#333" stroke-width="1.0"/>
<line x1="501.91" y1="524.2" x2="501.91" y2="522" stroke="#333" stroke-width="1.0"/>
<line x1="501.91" y1="357.33" x2="501.91" y2="359.53" stroke="#333" stroke-width="1.0"/>
<path d="M285.55,403.7 L286.05,403.7 L286.55,403.7 L287.05,403.7 L287.55,403.7 L288.06,403.7 L288.56,403.7 L289.06,403.7 L289.56,403.7 L290.06,403.7 L290.56,403.7 L291.06,403.7 L291.56,403.69 L292.06,403.69 L292.56,403.69 L293.07,403.69 L293.57,403.69 L294.07,403.69 L294.57,403.69 L295.07,403.69 L295.57,403.69 L296.07,403.69 L296.57,403.69 L297.07,403.69 L297.58,403.69 L298.08,403.69 L298.58,403.69 L299.08,403.68 L299.58,403.68 L300.08,403.68 L300.58,403.68 L301.08,403.68 L301.58,403.68 L302.08,403.68 L302.59,403.68 L303.09,403.67 L303.59,403.67 L304.09,403.67 L304.59,403.67 L305.09,403.67 L305.59,403.66 L306.09,403.66 L306.59,403.66 L307.1,403.66 L307.6,403.65 L308.1,403.65 L308.6,403.65 L309.1,403.64 L309.6,403.64 L310.1,403.64 L310.6,403.63 L311.1,403.63 L311.6,403.62 L312.11,403.62 L312.61,403.61 L313.11,403.61 L313.61,403.6 L314.11,403.6 L314.61,403.59 L315.11,403.59 L315.61,403.58 L316.11,403.57 L316.62,403.56 L317.12,403.56 L317.62,403.55 L318.12,403.54 L318.62,403.53 L319.12,403.52 L319.62,403.51 L320.12,403.5 L320.62,403.49 L321.12,403.47 L321.63,403.46 L322.13,403.45 L322.63,403.43 L323.13,403.42 L323.63,403.4 L324.13,403.39 L324.63,403.37 L325.13,403.35 L325.63,403.33 L326.14,403.32 L326.64,403.29 L327.14,403.27 L327.64,403.25 L328.14,403.23 L328.64,403.2 L329.14,403.18 L329.64,403.15 L330.14,403.12 L330.64,403.09 L331.15,403.06 L331.65,403.03 L332.15,403 L332.65,402.97 L333.15,402.93 L333.65,402.89 L334.15,402.85 L334.65,402.81 L335.15,402.77 L335.65,402.73 L336.16,402.68 L336.66,402.63 L337.16,402.58 L337.66,402.53 L338.16,402.48 L338.66,402.42 L339.16,402.37 L339.66,402.31 L340.16,402.25 L340.67,402.18 L341.17,402.12 L341.67,402.05 L342.17,401.98 L342.67,401.9 L343.17,401.83 L343.67,401.75 L344.17,402.15 L344.67,401.75 L345.17,401.37 L345.68,401.39 L346.18,401.74 L346.68,400.73 L347.18,400.82 L347.68,400.54 L348.18,401.3 L348.68,401.03 L349.18,401.14 L349.68,400.29 L350.19,400.68 L350.69,400.69 L351.19,400.27 L351.69,399.66 L352.19,399.61 L352.69,400.04 L353.19,400 L353.69,399.09 L354.19,399.29 L354.69,399 L355.2,399.46 L355.7,399.33 L356.2,398.53 L356.7,398.63 L357.2,398.8 L357.7,397.76 L358.2,397.88 L358.7,397.53 L359.2,398.06 L359.71,397.09 L360.21,397.68 L360.71,396.68 L361.21,396.88 L361.71,396.78 L362.21,396.35 L362.71,395.75 L363.21,396.19 L363.71,396.09 L364.21,395.46 L364.72,395.51 L365.22,395.4 L365.72,395.1 L366.22,394.96 L366.72,394.55 L367.22,394.18 L367.72,393.92 L368.22,393.2 L368.72,393.39 L369.23,392.9 L369.73,392.95 L370.23,392.49 L370.73,392.53 L371.23,392.01 L371.73,391.95 L372.23,390.93 L372.73,390.81 L373.23,390.86 L373.73,390.27 L374.24,389.49 L374.74,390 L375.24,388.97 L375.74,389.04 L376.24,388.65 L376.74,387.98 L377.24,388.09 L377.74,387.65 L378.24,387.13 L378.75,386.5 L379.25,386.8 L379.75,385.98 L380.25,385.76 L380.75,385.49 L381.25,385.38 L381.75,385.09 L382.25,385.04 L382.75,384.62 L383.25,384.33 L383.76,383.32 L384.26,383.46 L384.76,383.2 L385.26,382.94 L385.76,381.84 L386.26,381.46 L386.76,381.32 L387.26,381.37 L387.76,381.07 L388.27,380.68 L388.77,380.18 L389.27,380.15 L389.77,379.53 L390.27,379.39 L390.77,378.37 L391.27,378.04 L391.77,378.14 L392.27,378.13 L392.77,377.1 L393.28,377.45 L393.78,377.11 L394.28,377.17 L394.78,376.49 L395.28,376.12 L395.78,375.81 L396.28,375.83 L396.78,375.26 L397.28,375.5 L397.79,374.98 L398.29,374.91 L398.79,374.35 L399.29,374.47 L399.79,374.26 L400.29,373.76 L400.79,373.62 L401.29,373.06 L401.79,372.91 L402.29,372.5 L402.8,372.41 L403.3,372.18 L403.8,371.85 L404.3,372.18 L404.8,372.09 L405.3,371.29 L405.8,372 L406.3,371.3 L406.8,371.27 L407.31,371.76 L407.81,370.88 L408.31,370.74 L408.81,370.93 L409.31,370.75 L409.81,370.62 L410.31,371.25 L410.81,370.83 L411.31,370.82 L411.81,370.47 L412.32,370.5 L412.82,370.48 L413.32,370.74 L413.82,370.47 L414.32,370.73 L414.82,370.78 L415.32,371.33 L415.82,371.62 L416.32,371.63 L416.83,371.53 L417.33,371.92 L417.83,371.35 L418.33,371.79 L418.83,371.91 L419.33,372.1 L419.83,372.26 L420.33,372.67 L420.83,373.39 L421.33,372.84 L421.84,373.15 L422.34,373.67 L422.84,373.92 L423.34,374.09 L423.84,374.99 L424.34,374.63 L424.84,375.44 L425.34,375.95 L425.84,376.1 L426.35,375.99 L426.85,376.87 L427.35,376.71 L427.85,376.85 L428.35,377.71 L428.85,378.21 L429.35,378.51 L429.85,378.7 L430.35,379.02 L430.85,379.58 L431.36,379.97 L431.86,380.95 L432.36,381.3 L432.86,381.62 L433.36,381.55 L433.86,382.42 L434.36,382.58 L434.86,383.57 L435.36,383.95 L435.86,384.17 L436.37,384.2 L436.87,384.61 L437.37,385.05 L437.87,385.87 L438.37,386.07 L438.87,386.54 L439.37,386.96 L439.87,387.73 L440.37,387.37 L440.88,388.47 L441.38,388.1 L441.88,388.55 L442.38,389.87 L442.88,389.82 L443.38,389.85 L443.88,390.09 L444.38,390.99 L444.88,391.55 L445.38,391.98 L445.89,391.61 L446.39,392.7 L446.89,392.68 L447.39,393.47 L447.89,393.43 L448.39,393.34 L448.89,394.48 L449.39,394.12 L449.89,394.74 L450.4,394.67 L450.9,395.16 L451.4,395.92 L451.9,395.55 L452.4,396.24 L452.9,396.97 L453.4,397.26 L453.9,397.04 L454.4,397.33 L454.9,397.73 L455.41,398.13 L455.91,398.16 L456.41,398.41 L456.91,398.11 L457.41,399.16 L457.91,398.62 L458.41,398.73 L458.91,399.64 L459.41,399.03 L459.92,399.42 L460.42,399.41 L460.92,400.19 L461.42,400.27 L461.92,400.41 L462.42,399.96 L462.92,400.52 L463.42,400.89 L463.92,400.96 L464.42,401.24 L464.93,401.6 L465.43,401.67 L465.93,401.05 L466.43,401.71 L466.93,401.17 L467.43,401.71 L467.93,401.81 L468.43,401.9 L468.93,402 L469.44,402.08 L469.94,402.17 L470.44,402.25 L470.94,402.32 L471.44,402.4 L471.94,402.47 L472.44,402.53 L472.94,402.6 L473.44,402.66 L473.94,402.72 L474.45,402.77 L474.95,402.82 L475.45,402.87 L475.95,402.92 L476.45,402.96 L476.95,403.01 L477.45,403.05 L477.95,403.09 L478.45,403.12 L478.96,403.16 L479.46,403.19 L479.96,403.22 L480.46,403.25 L480.96,403.28 L481.46,403.3 L481.96,403.33 L482.46,403.35 L482.96,403.37 L483.46,403.39 L483.97,403.41 L484.47,403.43 L484.97,403.45 L485.47,403.47 L485.97,403.48 L486.47,403.5 L486.97,403.51 L487.47,403.52 L487.97,403.53 L488.48,403.55 L488.98,403.56 L489.48,403.57 L489.98,403.58 L490.48,403.58 L490.98,403.59 L491.48,403.6 L491.98,403.61 L492.48,403.61 L492.98,403.62 L493.49,403.63 L493.99,403.63 L494.49,403.64 L494.99,403.64 L495.49,403.65 L495.99,403.65 L496.49,403.65 L496.99,403.66 L497.49,403.66 L498,403.66 L498.5,403.67 L499,403.67 L499.5,403.67 L500,403.67 L500.5,403.68 L501,403.68 L501.5,403.68 L502,403.68 L502.5,403.68 L503.01,403.68 L503.51,403.68 L504.01,403.69 L504.51,403.69 L505.01,403.69 L505.51,403.69 L506.01,403.69 L506.51,403.69 L507.01,403.69 L507.52,403.69 L508.02,403.69 L508.52,403.69 L509.02,403.69 L509.52,403.69 L510.02,403.7 L510.52,403.7 L511.02,403.7 L511.52,403.7 L512.02,403.7 L512.53,403.7 L513.03,403.7 L513.3,403.7 L285.55,403.7Z" fill="#ff8000"/>
<line x1="285.55" y1="403.7" x2="513.3" y2="403.7" stroke="#ff8000" stroke-width="1.1"/>
<path d="M285.55,444.4 L286.05,444.4 L286.55,444.4 L287.05,444.4 L287.55,444.4 L288.06,444.4 L288.56,444.4 L289.06,444.4 L289.56,444.4 L290.06,444.4 L290.56,444.4 L291.06,444.4 L291.56,444.4 L292.06,444.4 L292.56,444.4 L293.07,444.4 L293.57,444.4 L294.07,444.4 L294.57,444.4 L295.07,444.4 L295.57,444.4 L296.07,444.4 L296.57,444.4 L297.07,444.4 L297.58,444.4 L298.08,444.4 L298.58,444.4 L299.08,444.4 L299.58,444.4 L300.08,444.4 L300.58,444.4 L301.08,444.4 L301.58,444.4 L302.08,444.4 L302.59,444.4 L303.09,444.4 L303.59,444.4 L304.09,444.4 L304.59,444.4 L305.09,444.4 L305.59,444.4 L306.09,444.4 L306.59,444.4 L307.1,444.4 L307.6,444.4 L308.1,444.4 L308.6,444.4 L309.1,444.4 L309.6,444.4 L310.1,444.4 L310.6,444.4 L311.1,444.4 L311.6,444.4 L312.11,444.4 L312.61,444.4 L313.11,444.4 L313.61,444.4 L314.11,444.4 L314.61,444.39 L315.11,444.39 L315.61,444.39 L316.11,444.39 L316.62,444.39 L317.12,444.39 L317.62,444.39 L318.12,444.39 L318.62,444.39 L319.12,444.39 L319.62,444.39 L320.12,444.39 L320.62,444.39 L321.12,444.39 L321.63,444.38 L322.13,444.38 L322.63,444.38 L323.13,444.38 L323.63,444.38 L324.13,444.38 L324.63,444.38 L325.13,444.37 L325.63,444.37 L326.14,444.37 L326.64,444.37 L327.14,444.37 L327.64,444.36 L328.14,444.36 L328.64,444.36 L329.14,444.36 L329.64,444.35 L330.14,444.35 L330.64,444.35 L331.15,444.34 L331.65,444.34 L332.15,444.34 L332.65,444.33 L333.15,444.33 L333.65,444.32 L334.15,444.32 L334.65,444.31 L335.15,444.31 L335.65,444.3 L336.16,444.29 L336.66,444.29 L337.16,444.28 L337.66,444.27 L338.16,444.27 L338.66,444.26 L339.16,444.25 L339.66,444.24 L340.16,444.23 L340.67,444.22 L341.17,444.21 L341.67,444.2 L342.17,444.19 L342.67,444.18 L343.17,444.17 L343.67,444.15 L344.17,444.14 L344.67,444.13 L345.17,444.11 L345.68,444.1 L346.18,444.08 L346.68,444.06 L347.18,444.05 L347.68,444.03 L348.18,444.01 L348.68,443.99 L349.18,443.97 L349.68,443.95 L350.19,443.93 L350.69,443.9 L351.19,443.88 L351.69,443.85 L352.19,443.82 L352.69,443.8 L353.19,443.77 L353.69,443.73 L354.19,443.7 L354.69,443.67 L355.2,443.63 L355.7,443.59 L356.2,443.55 L356.7,443.5 L357.2,443.46 L357.7,443.41 L358.2,443.35 L358.7,443.3 L359.2,443.24 L359.71,443.17 L360.21,443.1 L360.71,443.02 L361.21,442.94 L361.71,442.85 L362.21,442.76 L362.71,442.65 L363.21,442.54 L363.71,442.42 L364.21,442.44 L364.72,442.29 L365.22,441.99 L365.72,442.02 L366.22,441.73 L366.72,441.19 L367.22,441.02 L367.72,440.84 L368.22,440.71 L368.72,440.28 L369.23,439.99 L369.73,439.92 L370.23,439.5 L370.73,439.56 L371.23,438.79 L371.73,438.56 L372.23,437.97 L372.73,437.59 L373.23,437.34 L373.73,436.99 L374.24,435.94 L374.74,435.87 L375.24,435.08 L375.74,434.56 L376.24,433.95 L376.74,433.02 L377.24,432.19 L377.74,431.91 L378.24,430.94 L378.75,430.39 L379.25,429.45 L379.75,428.74 L380.25,428.06 L380.75,427.22 L381.25,426.34 L381.75,425.06 L382.25,424.44 L382.75,423.73 L383.25,422.44 L383.76,421.51 L384.26,420.96 L384.76,420.29 L385.26,419.41 L385.76,418.64 L386.26,417.68 L386.76,417.04 L387.26,416.2 L387.76,415.46 L388.27,414.59 L388.77,413.75 L389.27,413.23 L389.77,412.88 L390.27,412.38 L390.77,411.86 L391.27,411.56 L391.77,411.24 L392.27,411.13 L392.77,410.79 L393.28,410.23 L393.78,410.65 L394.28,410.4 L394.78,410.32 L395.28,410.18 L395.78,410.57 L396.28,410.54 L396.78,410.55 L397.28,410.46 L397.79,410.43 L398.29,410.18 L398.79,410.4 L399.29,410.67 L399.79,411.57 L400.29,412.07 L400.79,412.26 L401.29,412.85 L401.79,413.89 L402.29,414.69 L402.8,415.98 L403.3,416.75 L403.8,417.48 L404.3,418.64 L404.8,419.76 L405.3,420.85 L405.8,422.45 L406.3,423.72 L406.8,424.87 L407.31,425.81 L407.81,426.87 L408.31,427.84 L408.81,429.06 L409.31,430.17 L409.81,431.11 L410.31,432.27 L410.81,433.15 L411.31,434.34 L411.81,434.72 L412.32,435.83 L412.82,436.15 L413.32,437 L413.82,437.83 L414.32,438.52 L414.82,438.99 L415.32,439.25 L415.82,439.66 L416.32,440.43 L416.83,440.83 L417.33,440.9 L417.83,441.17 L418.33,441.57 L418.83,441.92 L419.33,441.92 L419.83,442.48 L420.33,442.48 L420.83,442.53 L421.33,442.68 L421.84,442.81 L422.34,442.94 L422.84,443.04 L423.34,443.14 L423.84,443.23 L424.34,443.32 L424.84,443.39 L425.34,443.46 L425.84,443.52 L426.35,443.58 L426.85,443.63 L427.35,443.68 L427.85,443.73 L428.35,443.77 L428.85,443.81 L429.35,443.85 L429.85,443.88 L430.35,443.91 L430.85,443.94 L431.36,443.97 L431.86,444 L432.36,444.03 L432.86,444.05 L433.36,444.07 L433.86,444.09 L434.36,444.11 L434.86,444.13 L435.36,444.15 L435.86,444.17 L436.37,444.18 L436.87,444.2 L437.37,444.21 L437.87,444.23 L438.37,444.24 L438.87,444.25 L439.37,444.26 L439.87,444.27 L440.37,444.28 L440.88,444.29 L441.38,444.3 L441.88,444.31 L442.38,444.32 L442.88,444.32 L443.38,444.33 L443.88,444.33 L444.38,444.34 L444.88,444.34 L445.38,444.35 L445.89,444.35 L446.39,444.36 L446.89,444.36 L447.39,444.36 L447.89,444.37 L448.39,444.37 L448.89,444.37 L449.39,444.38 L449.89,444.38 L450.4,444.38 L450.9,444.38 L451.4,444.38 L451.9,444.39 L452.4,444.39 L452.9,444.39 L453.4,444.39 L453.9,444.39 L454.4,444.39 L454.9,444.39 L455.41,444.39 L455.91,444.39 L456.41,444.39 L456.91,444.39 L457.41,444.4 L457.91,444.4 L458.41,444.4 L458.91,444.4 L459.41,444.4 L459.92,444.4 L460.42,444.4 L460.92,444.4 L461.42,444.4 L461.92,444.4 L462.42,444.4 L462.92,444.4 L462.97,444.4 L285.55,444.4Z" fill="#0000ff"/>
<line x1="285.55" y1="444.4" x2="462.97" y2="444.4" stroke="#0000ff" stroke-width="1.1"/>
<path d="M285.55,484.28 L286.05,484.27 L286.55,484.26 L287.05,484.25 L287.55,484.24 L288.06,484.23 L288.56,484.22 L289.06,484.21 L289.56,484.2 L290.06,484.19 L290.56,484.17 L291.06,484.16 L291.56,484.14 L292.06,484.13 L292.56,484.11 L293.07,484.1 L293.57,484.08 L294.07,484.06 L294.57,484.04 L295.07,484.02 L295.57,484 L296.07,483.97 L296.57,483.95 L297.07,483.92 L297.58,483.9 L298.08,483.87 L298.58,483.84 L299.08,483.8 L299.58,483.77 L300.08,483.74 L300.58,483.7 L301.08,483.66 L301.58,483.61 L302.08,483.57 L302.59,483.52 L303.09,483.47 L303.59,483.41 L304.09,483.35 L304.59,483.28 L305.09,483.21 L305.59,483.13 L306.09,483.05 L306.59,482.96 L307.1,482.86 L307.6,482.75 L308.1,482.63 L308.6,482.5 L309.1,482.37 L309.6,482.01 L310.1,481.97 L310.6,481.69 L311.1,481.65 L311.6,481.52 L312.11,481.27 L312.61,480.72 L313.11,480.54 L313.61,480.39 L314.11,480.16 L314.61,479.61 L315.11,479.14 L315.61,478.82 L316.11,478.43 L316.62,477.78 L317.12,477.15 L317.62,476.88 L318.12,476.36 L318.62,475.61 L319.12,474.92 L319.62,474.11 L320.12,473.57 L320.62,472.56 L321.12,471.78 L321.63,471.04 L322.13,470.3 L322.63,469.1 L323.13,468.45 L323.63,467.31 L324.13,466.59 L324.63,465.62 L325.13,464.42 L325.63,463.62 L326.14,462.37 L326.64,461.57 L327.14,460.72 L327.64,459.75 L328.14,458.74 L328.64,457.73 L329.14,456.74 L329.64,456.22 L330.14,455.33 L330.64,454.65 L331.15,453.66 L331.65,453.36 L332.15,452.83 L332.65,452.33 L333.15,451.78 L333.65,451.23 L334.15,450.97 L334.65,450.84 L335.15,450.63 L335.65,450.63 L336.16,450.97 L336.66,451.26 L337.16,451.32 L337.66,451.88 L338.16,452.77 L338.66,453.23 L339.16,454.16 L339.66,455.08 L340.16,456.09 L340.67,457.22 L341.17,458.42 L341.67,459.48 L342.17,460.67 L342.67,461.66 L343.17,463.24 L343.67,464.16 L344.17,465.71 L344.67,466.88 L345.17,467.89 L345.68,469.06 L346.18,470.35 L346.68,471.59 L347.18,472.45 L347.68,473.47 L348.18,474.18 L348.68,475.34 L349.18,476.09 L349.68,476.63 L350.19,477.68 L350.69,478.17 L351.19,478.6 L351.69,479.15 L352.19,479.93 L352.69,480.38 L353.19,480.77 L353.69,480.79 L354.19,481.38 L354.69,481.48 L355.2,481.68 L355.7,482.14 L356.2,482.37 L356.7,482.47 L357.2,482.64 L357.7,482.78 L358.2,482.92 L358.7,483.04 L359.2,483.14 L359.71,483.24 L360.21,483.33 L360.71,483.41 L361.21,483.48 L361.71,483.54 L362.21,483.6 L362.71,483.66 L363.21,483.71 L363.71,483.76 L364.21,483.8 L364.72,483.84 L365.22,483.88 L365.72,483.91 L366.22,483.95 L366.72,483.98 L367.22,484.01 L367.72,484.03 L368.22,484.06 L368.72,484.08 L369.23,484.1 L369.73,484.13 L370.23,484.15 L370.73,484.16 L371.23,484.18 L371.73,484.2 L372.23,484.21 L372.73,484.23 L373.23,484.24 L373.73,484.25 L374.24,484.27 L374.74,484.28 L375.24,484.29 L375.74,484.3 L376.24,484.3 L376.74,484.31 L377.24,484.32 L377.74,484.33 L378.24,484.33 L378.75,484.34 L379.25,484.34 L379.75,484.35 L380.25,484.35 L380.75,484.36 L380.75,484.4 L285.55,484.4Z" fill="#ff0000"/>
<line x1="285.55" y1="484.4" x2="380.75" y2="484.4" stroke="#ff0000" stroke-width="1.1"/>
<path d="M285.55,523.81 L286.05,523.79 L286.55,523.77 L287.05,523.75 L287.55,523.72 L288.06,523.7 L288.56,523.67 L289.06,523.65 L289.56,523.62 L290.06,523.59 L290.56,523.56 L291.06,523.52 L291.56,523.49 L292.06,523.45 L292.56,523.41 L293.07,523.37 L293.57,523.32 L294.07,523.27 L294.57,523.22 L295.07,523.16 L295.57,523.1 L296.07,523.04 L296.57,522.97 L297.07,522.89 L297.58,522.81 L298.08,522.73 L298.58,522.63 L299.08,522.53 L299.58,522.42 L300.08,522.29 L300.58,521.98 L301.08,521.97 L301.58,521.96 L302.08,521.61 L302.59,521.58 L303.09,521.4 L303.59,521.3 L304.09,520.76 L304.59,520.45 L305.09,520.29 L305.59,519.87 L306.09,519.92 L306.59,519.5 L307.1,519.04 L307.6,518.46 L308.1,518.04 L308.6,517.83 L309.1,517.41 L309.6,516.83 L310.1,516.28 L310.6,515.54 L311.1,515.25 L311.6,514.38 L312.11,513.75 L312.61,513.04 L313.11,512.35 L313.61,511.67 L314.11,511.02 L314.61,510.23 L315.11,509.4 L315.61,508.39 L316.11,507.82 L316.62,506.9 L317.12,505.79 L317.62,505.1 L318.12,504.27 L318.62,503.37 L319.12,502.26 L319.62,501.45 L320.12,500.29 L320.62,499.45 L321.12,498.55 L321.63,498 L322.13,497.26 L322.63,496.47 L323.13,495.57 L323.63,494.78 L324.13,494.22 L324.63,493.7 L325.13,493.06 L325.63,492.48 L326.14,492.01 L326.64,491.6 L327.14,491.25 L327.64,491.07 L328.14,491.11 L328.64,490.71 L329.14,490.88 L329.64,490.8 L330.14,490.99 L330.64,491.02 L331.15,491.48 L331.65,491.78 L332.15,492.17 L332.65,492.65 L333.15,492.87 L333.65,493.57 L334.15,494.29 L334.65,494.94 L335.15,495.43 L335.65,496.39 L336.16,497.3 L336.66,497.9 L337.16,498.83 L337.66,499.58 L338.16,500.84 L338.66,501.6 L339.16,502.39 L339.66,503.31 L340.16,504.2 L340.67,505.47 L341.17,506.29 L341.67,507.26 L342.17,508.11 L342.67,508.67 L343.17,509.67 L343.67,510.35 L344.17,511.37 L344.67,511.95 L345.17,512.85 L345.68,513.64 L346.18,514.11 L346.68,514.69 L347.18,515.65 L347.68,516.04 L348.18,516.58 L348.68,517.26 L349.18,517.7 L349.68,518.25 L350.19,518.66 L350.69,519.04 L351.19,519.28 L351.69,519.61 L352.19,520.12 L352.69,520.5 L353.19,520.65 L353.69,520.77 L354.19,521.21 L354.69,521.38 L355.2,521.62 L355.7,521.58 L356.2,521.85 L356.7,522.2 L357.2,522.33 L357.7,522.3 L358.2,522.43 L358.7,522.54 L359.2,522.64 L359.71,522.74 L360.21,522.83 L360.71,522.91 L361.21,522.99 L361.71,523.06 L362.21,523.12 L362.71,523.18 L363.21,523.24 L363.71,523.29 L364.21,523.34 L364.72,523.38 L365.22,523.43 L365.72,523.47 L366.22,523.5 L366.72,523.54 L367.22,523.57 L367.72,523.6 L368.22,523.63 L368.72,523.66 L369.23,523.69 L369.73,523.72 L370.23,523.74 L370.73,523.76 L371.23,523.79 L371.73,523.81 L372.23,523.83 L372.73,523.85 L373.23,523.87 L373.73,523.88 L374.24,523.9 L374.74,523.92 L375.24,523.93 L375.74,523.95 L376.24,523.96 L376.74,523.97 L377.24,523.99 L377.74,524 L378.24,524.01 L378.75,524.02 L379.25,524.03 L379.75,524.04 L380.25,524.05 L380.75,524.06 L381.25,524.07 L381.75,524.08 L382.25,524.08 L382.75,524.09 L383.25,524.1 L383.76,524.1 L384.26,524.11 L384.76,524.12 L385.26,524.12 L385.76,524.13 L385.76,524.2 L285.55,524.2Z" fill="#000000"/>
<line x1="285.55" y1="524.2" x2="385.76" y2="524.2" stroke="#000000" stroke-width="1.1"/>
<text x="285.55" y="533.3" font-size="7" text-anchor="middle" fill="#222" class="s">0</text>
<text x="308.32" y="533.3" font-size="7" text-anchor="middle" fill="#222" class="s">10</text>
<text x="331.1" y="533.3" font-size="7" text-anchor="middle" fill="#222" class="s">20</text>
<text x="353.88" y="533.3" font-size="7" text-anchor="middle" fill="#222" class="s">30</text>
<text x="376.65" y="533.3" font-size="7" text-anchor="middle" fill="#222" class="s">40</text>
<text x="399.43" y="533.3" font-size="7" text-anchor="middle" fill="#222" class="s">50</text>
<text x="422.2" y="533.3" font-size="7" text-anchor="middle" fill="#222" class="s">60</text>
<text x="444.98" y="533.3" font-size="7" text-anchor="middle" fill="#222" class="s">70</text>
<text x="467.75" y="533.3" font-size="7" text-anchor="middle" fill="#222" class="s">80</text>
<text x="490.52" y="533.3" font-size="7" text-anchor="middle" fill="#222" class="s">90</text>
<text x="513.3" y="533.3" font-size="7" text-anchor="middle" fill="#222" class="s">100</text>
<text x="404.3" y="543.7" font-size="9.1" text-anchor="middle" fill="#222">Height (nm)</text>
<text transform="translate(280,457.3) rotate(-90)" font-size="9.1" fill="#222">Yield (a.u.)</text>
<text x="505.2" y="369.9" font-size="8.8" text-anchor="end" fill="#222">(c)</text>
<rect x="441.3" y="485" width="16.2" height="8" fill="#000"/>
<text x="459.9" y="491.6" font-size="7.5" text-anchor="start" fill="#222" class="s">&lt; 360 K (0 W)</text>
<rect x="441.3" y="493.8" width="16.2" height="8.6" fill="#ff0000"/>
<text x="459.9" y="500.7" font-size="7.5" text-anchor="start" fill="#222" class="s">410 K (500 W)</text>
<rect x="441.3" y="503.2" width="16.2" height="8.7" fill="#0000ff"/>
<text x="459.9" y="510.15" font-size="7.5" text-anchor="start" fill="#222" class="s">493 K (1000 W)</text>
<rect x="441.3" y="512.5" width="16.2" height="8.1" fill="#ff8000"/>
<text x="459.9" y="519.15" font-size="7.5" text-anchor="start" fill="#222" class="s">515 K (1500 W)</text>
<rect x="285.55" y="357.33" width="227.75" height="166.87" fill="none" stroke="#4a4a4a" stroke-width="1.1"/>
</g>
</svg>
</body></html>
